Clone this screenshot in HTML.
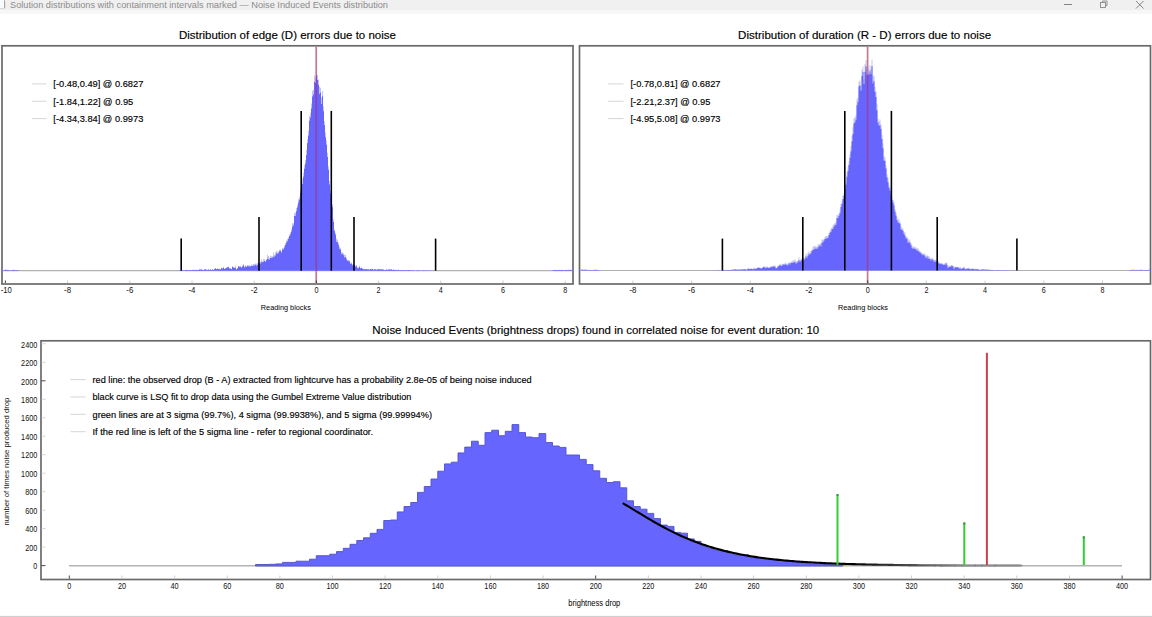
<!DOCTYPE html>
<html><head><meta charset="utf-8"><style>
html,body{margin:0;padding:0;background:#fff;width:1152px;height:617px;overflow:hidden}
svg{display:block;font-family:"Liberation Sans", sans-serif}
</style></head><body>
<svg width="1152" height="617" viewBox="0 0 1152 617">
<rect width="1152" height="617" fill="#fff"/>
<rect x="0" y="0" width="1152" height="10" fill="#f0f0f0"/>
<rect x="0" y="10" width="1152" height="4" fill="#f7f7f7"/>
<rect x="0" y="0" width="4" height="8.5" fill="#fafafa"/>
<line x1="4.6" y1="0.5" x2="4.6" y2="8" stroke="#a0a0a0" stroke-width="1.1"/>
<line x1="0" y1="8.6" x2="5" y2="8.6" stroke="#cfcfcf" stroke-width="0.8"/>
<text x="10.00" y="8.30" font-size="9" text-anchor="start" fill="#8c8c8c" textLength="378.0" lengthAdjust="spacingAndGlyphs">Solution distributions with containment intervals marked — Noise Induced Events distribution</text>
<line x1="1064" y1="4.5" x2="1072" y2="4.5" stroke="#777" stroke-width="0.9"/>
<rect x="1100.5" y="2.5" width="5" height="5" fill="none" stroke="#888" stroke-width="0.9"/>
<path d="M1102.5 2.5 V1 H1107 V5.5 H1105.5" fill="none" stroke="#888" stroke-width="0.9"/>
<path d="M1136 1 L1143.5 8.5 M1143.5 1 L1136 8.5" stroke="#777" stroke-width="0.9"/>
<text x="287.40" y="38.60" font-size="11.5" text-anchor="middle" fill="#000" stroke="#000" stroke-width="0.15" textLength="217.0" lengthAdjust="spacingAndGlyphs">Distribution of edge (D) errors due to noise</text>
<rect x="2" y="45.8" width="571" height="238.2" fill="none" stroke="#6a6a6a" stroke-width="1.7"/>
<line x1="3" y1="270.7" x2="572" y2="270.7" stroke="#b0b0b0" stroke-width="1.2"/>
<path d="M3.0 270.7 L3.0 270.2 L4.0 270.2 L4.0 269.9 L5.0 269.9 L5.0 269.7 L6.0 269.7 L6.0 269.8 L7.0 269.8 L7.0 269.8 L8.0 269.8 L8.0 270.0 L9.0 270.0 L9.0 270.3 L10.0 270.3 L10.0 270.3 L11.0 270.3 L11.0 270.2 L12.0 270.2 L12.0 270.0 L13.0 270.0 L13.0 269.8 L14.0 269.8 L14.0 269.8 L15.0 269.8 L15.0 270.1 L16.0 270.1 L16.0 270.0 L17.0 270.0 L17.0 270.2 L18.0 270.2 L18.0 270.3 L19.0 270.3 L19.0 270.2 L20.0 270.2 L20.0 270.7 L21.0 270.7 L21.0 270.7 L22.0 270.7 L22.0 270.7 L23.0 270.7 L23.0 270.7 L24.0 270.7 L24.0 270.7 L25.0 270.7 L25.0 270.7 L26.0 270.7 L26.0 270.7 L27.0 270.7 L27.0 270.7 L28.0 270.7 L28.0 270.7 L29.0 270.7 L29.0 270.7 L30.0 270.7 L30.0 270.7 L31.0 270.7 L31.0 270.7 L32.0 270.7 L32.0 270.7 L33.0 270.7 L33.0 270.7 L34.0 270.7 L34.0 270.7 L35.0 270.7 L35.0 270.7 L36.0 270.7 L36.0 270.7 L37.0 270.7 L37.0 270.7 L38.0 270.7 L38.0 270.7 L39.0 270.7 L39.0 270.7 L40.0 270.7 L40.0 270.7 L41.0 270.7 L41.0 270.7 L42.0 270.7 L42.0 270.7 L43.0 270.7 L43.0 270.7 L44.0 270.7 L44.0 270.7 L45.0 270.7 L45.0 270.7 L46.0 270.7 L46.0 270.7 L47.0 270.7 L47.0 270.7 L48.0 270.7 L48.0 270.7 L49.0 270.7 L49.0 270.7 L50.0 270.7 L50.0 270.7 L51.0 270.7 L51.0 270.7 L52.0 270.7 L52.0 270.7 L53.0 270.7 L53.0 270.7 L54.0 270.7 L54.0 270.7 L55.0 270.7 L55.0 270.7 L56.0 270.7 L56.0 270.7 L57.0 270.7 L57.0 270.7 L58.0 270.7 L58.0 270.7 L59.0 270.7 L59.0 270.7 L60.0 270.7 L60.0 270.7 L61.0 270.7 L61.0 270.7 L62.0 270.7 L62.0 270.7 L63.0 270.7 L63.0 270.7 L64.0 270.7 L64.0 270.7 L65.0 270.7 L65.0 270.7 L66.0 270.7 L66.0 270.7 L67.0 270.7 L67.0 270.7 L68.0 270.7 L68.0 270.7 L69.0 270.7 L69.0 270.7 L70.0 270.7 L70.0 270.7 L71.0 270.7 L71.0 270.7 L72.0 270.7 L72.0 270.7 L73.0 270.7 L73.0 270.7 L74.0 270.7 L74.0 270.7 L75.0 270.7 L75.0 270.7 L76.0 270.7 L76.0 270.7 L77.0 270.7 L77.0 270.7 L78.0 270.7 L78.0 270.7 L79.0 270.7 L79.0 270.7 L80.0 270.7 L80.0 270.7 L81.0 270.7 L81.0 270.7 L82.0 270.7 L82.0 270.7 L83.0 270.7 L83.0 270.7 L84.0 270.7 L84.0 270.7 L85.0 270.7 L85.0 270.7 L86.0 270.7 L86.0 270.7 L87.0 270.7 L87.0 270.7 L88.0 270.7 L88.0 270.7 L89.0 270.7 L89.0 270.7 L90.0 270.7 L90.0 270.7 L91.0 270.7 L91.0 270.7 L92.0 270.7 L92.0 270.7 L93.0 270.7 L93.0 270.7 L94.0 270.7 L94.0 270.7 L95.0 270.7 L95.0 270.7 L96.0 270.7 L96.0 270.7 L97.0 270.7 L97.0 270.7 L98.0 270.7 L98.0 270.7 L99.0 270.7 L99.0 270.7 L100.0 270.7 L100.0 270.7 L101.0 270.7 L101.0 270.7 L102.0 270.7 L102.0 270.7 L103.0 270.7 L103.0 270.7 L104.0 270.7 L104.0 270.7 L105.0 270.7 L105.0 270.7 L106.0 270.7 L106.0 270.7 L107.0 270.7 L107.0 270.7 L108.0 270.7 L108.0 270.7 L109.0 270.7 L109.0 270.7 L110.0 270.7 L110.0 270.7 L111.0 270.7 L111.0 270.7 L112.0 270.7 L112.0 270.7 L113.0 270.7 L113.0 270.7 L114.0 270.7 L114.0 270.7 L115.0 270.7 L115.0 270.7 L116.0 270.7 L116.0 270.7 L117.0 270.7 L117.0 270.7 L118.0 270.7 L118.0 270.7 L119.0 270.7 L119.0 270.7 L120.0 270.7 L120.0 270.7 L121.0 270.7 L121.0 270.7 L122.0 270.7 L122.0 270.7 L123.0 270.7 L123.0 270.7 L124.0 270.7 L124.0 270.7 L125.0 270.7 L125.0 270.7 L126.0 270.7 L126.0 270.7 L127.0 270.7 L127.0 270.7 L128.0 270.7 L128.0 270.7 L129.0 270.7 L129.0 270.7 L130.0 270.7 L130.0 270.7 L131.0 270.7 L131.0 270.7 L132.0 270.7 L132.0 270.7 L133.0 270.7 L133.0 270.7 L134.0 270.7 L134.0 270.7 L135.0 270.7 L135.0 270.7 L136.0 270.7 L136.0 270.7 L137.0 270.7 L137.0 270.7 L138.0 270.7 L138.0 270.7 L139.0 270.7 L139.0 270.7 L140.0 270.7 L140.0 270.7 L141.0 270.7 L141.0 270.7 L142.0 270.7 L142.0 270.7 L143.0 270.7 L143.0 270.7 L144.0 270.7 L144.0 270.7 L145.0 270.7 L145.0 270.7 L146.0 270.7 L146.0 270.7 L147.0 270.7 L147.0 270.7 L148.0 270.7 L148.0 270.7 L149.0 270.7 L149.0 270.7 L150.0 270.7 L150.0 270.7 L151.0 270.7 L151.0 270.7 L152.0 270.7 L152.0 270.7 L153.0 270.7 L153.0 270.7 L154.0 270.7 L154.0 270.7 L155.0 270.7 L155.0 270.7 L156.0 270.7 L156.0 270.7 L157.0 270.7 L157.0 270.7 L158.0 270.7 L158.0 270.7 L159.0 270.7 L159.0 270.7 L160.0 270.7 L160.0 270.7 L161.0 270.7 L161.0 270.7 L162.0 270.7 L162.0 270.7 L163.0 270.7 L163.0 270.7 L164.0 270.7 L164.0 270.7 L165.0 270.7 L165.0 270.7 L166.0 270.7 L166.0 270.7 L167.0 270.7 L167.0 270.7 L168.0 270.7 L168.0 270.7 L169.0 270.7 L169.0 270.7 L170.0 270.7 L170.0 270.7 L171.0 270.7 L171.0 270.7 L172.0 270.7 L172.0 270.7 L173.0 270.7 L173.0 270.7 L174.0 270.7 L174.0 270.7 L175.0 270.7 L175.0 270.7 L176.0 270.7 L176.0 270.7 L177.0 270.7 L177.0 270.7 L178.0 270.7 L178.0 270.7 L179.0 270.7 L179.0 270.3 L180.0 270.3 L180.0 270.0 L181.0 270.0 L181.0 270.1 L182.0 270.1 L182.0 270.3 L183.0 270.3 L183.0 270.1 L184.0 270.1 L184.0 270.2 L185.0 270.2 L185.0 270.0 L186.0 270.0 L186.0 269.8 L187.0 269.8 L187.0 269.9 L188.0 269.9 L188.0 269.9 L189.0 269.9 L189.0 270.0 L190.0 270.0 L190.0 269.9 L191.0 269.9 L191.0 270.2 L192.0 270.2 L192.0 269.8 L193.0 269.8 L193.0 269.8 L194.0 269.8 L194.0 269.8 L195.0 269.8 L195.0 269.8 L196.0 269.8 L196.0 269.7 L197.0 269.7 L197.0 269.8 L198.0 269.8 L198.0 269.9 L199.0 269.9 L199.0 269.4 L200.0 269.4 L200.0 269.3 L201.0 269.3 L201.0 269.1 L202.0 269.1 L202.0 269.8 L203.0 269.8 L203.0 269.9 L204.0 269.9 L204.0 269.2 L205.0 269.2 L205.0 269.0 L206.0 269.0 L206.0 269.6 L207.0 269.6 L207.0 269.8 L208.0 269.8 L208.0 269.3 L209.0 269.3 L209.0 269.9 L210.0 269.9 L210.0 269.2 L211.0 269.2 L211.0 269.9 L212.0 269.9 L212.0 269.0 L213.0 269.0 L213.0 269.8 L214.0 269.8 L214.0 269.0 L215.0 269.0 L215.0 267.9 L216.0 267.9 L216.0 268.9 L217.0 268.9 L217.0 268.4 L218.0 268.4 L218.0 268.9 L219.0 268.9 L219.0 268.8 L220.0 268.8 L220.0 269.0 L221.0 269.0 L221.0 267.7 L222.0 267.7 L222.0 268.3 L223.0 268.3 L223.0 266.9 L224.0 266.9 L224.0 268.8 L225.0 268.8 L225.0 268.0 L226.0 268.0 L226.0 267.3 L227.0 267.3 L227.0 266.8 L228.0 266.8 L228.0 266.4 L229.0 266.4 L229.0 268.2 L230.0 268.2 L230.0 268.3 L231.0 268.3 L231.0 268.9 L232.0 268.9 L232.0 266.1 L233.0 266.1 L233.0 267.2 L234.0 267.2 L234.0 267.5 L235.0 267.5 L235.0 266.3 L236.0 266.3 L236.0 268.9 L237.0 268.9 L237.0 268.1 L238.0 268.1 L238.0 265.9 L239.0 265.9 L239.0 266.1 L240.0 266.1 L240.0 266.0 L241.0 266.0 L241.0 267.3 L242.0 267.3 L242.0 265.5 L243.0 265.5 L243.0 263.9 L244.0 263.9 L244.0 266.4 L245.0 266.4 L245.0 265.3 L246.0 265.3 L246.0 266.3 L247.0 266.3 L247.0 264.9 L248.0 264.9 L248.0 265.5 L249.0 265.5 L249.0 265.1 L250.0 265.1 L250.0 265.8 L251.0 265.8 L251.0 264.5 L252.0 264.5 L252.0 264.8 L253.0 264.8 L253.0 264.1 L254.0 264.1 L254.0 263.9 L255.0 263.9 L255.0 263.5 L256.0 263.5 L256.0 263.7 L257.0 263.7 L257.0 263.1 L258.0 263.1 L258.0 261.7 L259.0 261.7 L259.0 263.1 L260.0 263.1 L260.0 261.6 L261.0 261.6 L261.0 259.5 L262.0 259.5 L262.0 260.9 L263.0 260.9 L263.0 259.0 L264.0 259.0 L264.0 259.2 L265.0 259.2 L265.0 260.5 L266.0 260.5 L266.0 258.9 L267.0 258.9 L267.0 254.8 L268.0 254.8 L268.0 256.1 L269.0 256.1 L269.0 257.5 L270.0 257.5 L270.0 255.5 L271.0 255.5 L271.0 256.3 L272.0 256.3 L272.0 256.3 L273.0 256.3 L273.0 252.4 L274.0 252.4 L274.0 254.8 L275.0 254.8 L275.0 252.3 L276.0 252.3 L276.0 251.0 L277.0 251.0 L277.0 251.6 L278.0 251.6 L278.0 251.6 L279.0 251.6 L279.0 249.8 L280.0 249.8 L280.0 249.4 L281.0 249.4 L281.0 251.2 L282.0 251.2 L282.0 247.9 L283.0 247.9 L283.0 247.8 L284.0 247.8 L284.0 245.3 L285.0 245.3 L285.0 243.1 L286.0 243.1 L286.0 240.3 L287.0 240.3 L287.0 238.7 L288.0 238.7 L288.0 236.9 L289.0 236.9 L289.0 234.6 L290.0 234.6 L290.0 232.2 L291.0 232.2 L291.0 229.1 L292.0 229.1 L292.0 223.2 L293.0 223.2 L293.0 223.1 L294.0 223.1 L294.0 213.1 L295.0 213.1 L295.0 212.4 L296.0 212.4 L296.0 207.9 L297.0 207.9 L297.0 204.7 L298.0 204.7 L298.0 199.0 L299.0 199.0 L299.0 196.7 L300.0 196.7 L300.0 189.0 L301.0 189.0 L301.0 181.1 L302.0 181.1 L302.0 178.7 L303.0 178.7 L303.0 172.8 L304.0 172.8 L304.0 165.3 L305.0 165.3 L305.0 160.0 L306.0 160.0 L306.0 149.8 L307.0 149.8 L307.0 139.3 L308.0 139.3 L308.0 130.7 L309.0 130.7 L309.0 116.0 L310.0 116.0 L310.0 112.7 L311.0 112.7 L311.0 103.6 L312.0 103.6 L312.0 90.8 L313.0 90.8 L313.0 89.5 L314.0 89.5 L314.0 75.6 L315.0 75.6 L315.0 77.8 L316.0 77.8 L316.0 69.0 L317.0 69.0 L317.0 74.9 L318.0 74.9 L318.0 79.4 L319.0 79.4 L319.0 86.7 L320.0 86.7 L320.0 87.7 L321.0 87.7 L321.0 97.6 L322.0 97.6 L322.0 91.0 L323.0 91.0 L323.0 106.5 L324.0 106.5 L324.0 121.0 L325.0 121.0 L325.0 132.4 L326.0 132.4 L326.0 140.4 L327.0 140.4 L327.0 152.8 L328.0 152.8 L328.0 166.2 L329.0 166.2 L329.0 181.0 L330.0 181.0 L330.0 190.5 L331.0 190.5 L331.0 198.9 L332.0 198.9 L332.0 204.2 L333.0 204.2 L333.0 219.3 L334.0 219.3 L334.0 229.2 L335.0 229.2 L335.0 232.8 L336.0 232.8 L336.0 238.5 L337.0 238.5 L337.0 239.7 L338.0 239.7 L338.0 242.7 L339.0 242.7 L339.0 246.6 L340.0 246.6 L340.0 247.7 L341.0 247.7 L341.0 252.0 L342.0 252.0 L342.0 252.4 L343.0 252.4 L343.0 253.3 L344.0 253.3 L344.0 254.9 L345.0 254.9 L345.0 254.5 L346.0 254.5 L346.0 257.2 L347.0 257.2 L347.0 259.8 L348.0 259.8 L348.0 259.8 L349.0 259.8 L349.0 260.3 L350.0 260.3 L350.0 263.0 L351.0 263.0 L351.0 262.2 L352.0 262.2 L352.0 264.2 L353.0 264.2 L353.0 263.0 L354.0 263.0 L354.0 264.8 L355.0 264.8 L355.0 265.6 L356.0 265.6 L356.0 264.9 L357.0 264.9 L357.0 267.6 L358.0 267.6 L358.0 267.5 L359.0 267.5 L359.0 265.5 L360.0 265.5 L360.0 268.0 L361.0 268.0 L361.0 267.3 L362.0 267.3 L362.0 268.4 L363.0 268.4 L363.0 268.9 L364.0 268.9 L364.0 268.9 L365.0 268.9 L365.0 268.9 L366.0 268.9 L366.0 268.9 L367.0 268.9 L367.0 269.0 L368.0 269.0 L368.0 268.9 L369.0 268.9 L369.0 269.5 L370.0 269.5 L370.0 268.9 L371.0 268.9 L371.0 268.9 L372.0 268.9 L372.0 268.8 L373.0 268.8 L373.0 269.6 L374.0 269.6 L374.0 268.9 L375.0 268.9 L375.0 269.1 L376.0 269.1 L376.0 269.7 L377.0 269.7 L377.0 269.3 L378.0 269.3 L378.0 269.0 L379.0 269.0 L379.0 269.1 L380.0 269.1 L380.0 269.0 L381.0 269.0 L381.0 269.0 L382.0 269.0 L382.0 269.2 L383.0 269.2 L383.0 269.4 L384.0 269.4 L384.0 269.9 L385.0 269.9 L385.0 269.7 L386.0 269.7 L386.0 269.5 L387.0 269.5 L387.0 269.7 L388.0 269.7 L388.0 269.4 L389.0 269.4 L389.0 269.5 L390.0 269.5 L390.0 269.6 L391.0 269.6 L391.0 269.3 L392.0 269.3 L392.0 269.9 L393.0 269.9 L393.0 269.4 L394.0 269.4 L394.0 269.8 L395.0 269.8 L395.0 270.0 L396.0 270.0 L396.0 269.7 L397.0 269.7 L397.0 270.0 L398.0 270.0 L398.0 269.6 L399.0 269.6 L399.0 270.1 L400.0 270.1 L400.0 269.9 L401.0 269.9 L401.0 270.1 L402.0 270.1 L402.0 270.0 L403.0 270.0 L403.0 270.0 L404.0 270.0 L404.0 270.2 L405.0 270.2 L405.0 270.0 L406.0 270.0 L406.0 270.2 L407.0 270.2 L407.0 270.2 L408.0 270.2 L408.0 269.9 L409.0 269.9 L409.0 270.0 L410.0 270.0 L410.0 270.1 L411.0 270.1 L411.0 270.1 L412.0 270.1 L412.0 269.9 L413.0 269.9 L413.0 270.4 L414.0 270.4 L414.0 270.3 L415.0 270.3 L415.0 270.3 L416.0 270.3 L416.0 270.1 L417.0 270.1 L417.0 270.2 L418.0 270.2 L418.0 270.1 L419.0 270.1 L419.0 270.1 L420.0 270.1 L420.0 270.3 L421.0 270.3 L421.0 270.3 L422.0 270.3 L422.0 270.4 L423.0 270.4 L423.0 270.1 L424.0 270.1 L424.0 270.2 L425.0 270.2 L425.0 270.3 L426.0 270.3 L426.0 270.4 L427.0 270.4 L427.0 270.4 L428.0 270.4 L428.0 270.4 L429.0 270.4 L429.0 270.3 L430.0 270.3 L430.0 270.7 L431.0 270.7 L431.0 270.4 L432.0 270.4 L432.0 270.7 L433.0 270.7 L433.0 270.4 L434.0 270.4 L434.0 270.7 L435.0 270.7 L435.0 270.7 L436.0 270.7 L436.0 270.7 L437.0 270.7 L437.0 270.7 L438.0 270.7 L438.0 270.7 L439.0 270.7 L439.0 270.7 L440.0 270.7 L440.0 270.7 L441.0 270.7 L441.0 270.7 L442.0 270.7 L442.0 270.7 L443.0 270.7 L443.0 270.7 L444.0 270.7 L444.0 270.7 L445.0 270.7 L445.0 270.7 L446.0 270.7 L446.0 270.7 L447.0 270.7 L447.0 270.7 L448.0 270.7 L448.0 270.7 L449.0 270.7 L449.0 270.7 L450.0 270.7 L450.0 270.7 L451.0 270.7 L451.0 270.7 L452.0 270.7 L452.0 270.7 L453.0 270.7 L453.0 270.7 L454.0 270.7 L454.0 270.7 L455.0 270.7 L455.0 270.7 L456.0 270.7 L456.0 270.7 L457.0 270.7 L457.0 270.7 L458.0 270.7 L458.0 270.7 L459.0 270.7 L459.0 270.7 L460.0 270.7 L460.0 270.7 L461.0 270.7 L461.0 270.7 L462.0 270.7 L462.0 270.7 L463.0 270.7 L463.0 270.7 L464.0 270.7 L464.0 270.7 L465.0 270.7 L465.0 270.7 L466.0 270.7 L466.0 270.7 L467.0 270.7 L467.0 270.7 L468.0 270.7 L468.0 270.7 L469.0 270.7 L469.0 270.7 L470.0 270.7 L470.0 270.7 L471.0 270.7 L471.0 270.7 L472.0 270.7 L472.0 270.7 L473.0 270.7 L473.0 270.7 L474.0 270.7 L474.0 270.7 L475.0 270.7 L475.0 270.7 L476.0 270.7 L476.0 270.7 L477.0 270.7 L477.0 270.7 L478.0 270.7 L478.0 270.7 L479.0 270.7 L479.0 270.7 L480.0 270.7 L480.0 270.7 L481.0 270.7 L481.0 270.7 L482.0 270.7 L482.0 270.7 L483.0 270.7 L483.0 270.7 L484.0 270.7 L484.0 270.7 L485.0 270.7 L485.0 270.7 L486.0 270.7 L486.0 270.7 L487.0 270.7 L487.0 270.7 L488.0 270.7 L488.0 270.7 L489.0 270.7 L489.0 270.7 L490.0 270.7 L490.0 270.7 L491.0 270.7 L491.0 270.7 L492.0 270.7 L492.0 270.7 L493.0 270.7 L493.0 270.7 L494.0 270.7 L494.0 270.7 L495.0 270.7 L495.0 270.7 L496.0 270.7 L496.0 270.7 L497.0 270.7 L497.0 270.7 L498.0 270.7 L498.0 270.7 L499.0 270.7 L499.0 270.7 L500.0 270.7 L500.0 270.7 L501.0 270.7 L501.0 270.7 L502.0 270.7 L502.0 270.7 L503.0 270.7 L503.0 270.7 L504.0 270.7 L504.0 270.7 L505.0 270.7 L505.0 270.7 L506.0 270.7 L506.0 270.7 L507.0 270.7 L507.0 270.7 L508.0 270.7 L508.0 270.7 L509.0 270.7 L509.0 270.7 L510.0 270.7 L510.0 270.7 L511.0 270.7 L511.0 270.7 L512.0 270.7 L512.0 270.7 L513.0 270.7 L513.0 270.7 L514.0 270.7 L514.0 270.7 L515.0 270.7 L515.0 270.7 L516.0 270.7 L516.0 270.7 L517.0 270.7 L517.0 270.7 L518.0 270.7 L518.0 270.7 L519.0 270.7 L519.0 270.7 L520.0 270.7 L520.0 270.7 L521.0 270.7 L521.0 270.7 L522.0 270.7 L522.0 270.7 L523.0 270.7 L523.0 270.7 L524.0 270.7 L524.0 270.7 L525.0 270.7 L525.0 270.7 L526.0 270.7 L526.0 270.7 L527.0 270.7 L527.0 270.7 L528.0 270.7 L528.0 270.7 L529.0 270.7 L529.0 270.7 L530.0 270.7 L530.0 270.7 L531.0 270.7 L531.0 270.7 L532.0 270.7 L532.0 270.7 L533.0 270.7 L533.0 270.7 L534.0 270.7 L534.0 270.7 L535.0 270.7 L535.0 270.7 L536.0 270.7 L536.0 270.7 L537.0 270.7 L537.0 270.7 L538.0 270.7 L538.0 270.7 L539.0 270.7 L539.0 270.7 L540.0 270.7 L540.0 270.7 L541.0 270.7 L541.0 270.7 L542.0 270.7 L542.0 270.7 L543.0 270.7 L543.0 270.7 L544.0 270.7 L544.0 270.7 L545.0 270.7 L545.0 270.7 L546.0 270.7 L546.0 270.7 L547.0 270.7 L547.0 270.7 L548.0 270.7 L548.0 270.7 L549.0 270.7 L549.0 270.7 L550.0 270.7 L550.0 270.7 L551.0 270.7 L551.0 270.7 L552.0 270.7 L552.0 270.1 L553.0 270.1 L553.0 270.0 L554.0 270.0 L554.0 269.8 L555.0 269.8 L555.0 269.9 L556.0 269.9 L556.0 270.0 L557.0 270.0 L557.0 269.9 L558.0 269.9 L558.0 270.0 L559.0 270.0 L559.0 269.8 L560.0 269.8 L560.0 270.0 L561.0 270.0 L561.0 269.8 L562.0 269.8 L562.0 270.0 L563.0 270.0 L563.0 270.0 L564.0 270.0 L564.0 270.1 L565.0 270.1 L565.0 269.9 L566.0 269.9 L566.0 269.7 L567.0 269.7 L567.0 269.9 L568.0 269.9 L568.0 269.8 L569.0 269.8 L569.0 269.8 L570.0 269.8 L570.0 269.5 L571.0 269.5 L571.0 270.0 L572.0 270.0 L572.0 270.7 Z" fill="#c4c4f2"/>
<path d="M3.0 270.7 L3.0 270.4 L4.0 270.4 L4.0 270.0 L5.0 270.0 L5.0 269.8 L6.0 269.8 L6.0 270.0 L7.0 270.0 L7.0 270.0 L8.0 270.0 L8.0 270.1 L9.0 270.1 L9.0 270.4 L10.0 270.4 L10.0 270.3 L11.0 270.3 L11.0 270.3 L12.0 270.3 L12.0 270.1 L13.0 270.1 L13.0 270.1 L14.0 270.1 L14.0 270.0 L15.0 270.0 L15.0 270.2 L16.0 270.2 L16.0 270.1 L17.0 270.1 L17.0 270.3 L18.0 270.3 L18.0 270.4 L19.0 270.4 L19.0 270.4 L20.0 270.4 L20.0 270.7 L21.0 270.7 L21.0 270.7 L22.0 270.7 L22.0 270.7 L23.0 270.7 L23.0 270.7 L24.0 270.7 L24.0 270.7 L25.0 270.7 L25.0 270.7 L26.0 270.7 L26.0 270.7 L27.0 270.7 L27.0 270.7 L28.0 270.7 L28.0 270.7 L29.0 270.7 L29.0 270.7 L30.0 270.7 L30.0 270.7 L31.0 270.7 L31.0 270.7 L32.0 270.7 L32.0 270.7 L33.0 270.7 L33.0 270.7 L34.0 270.7 L34.0 270.7 L35.0 270.7 L35.0 270.7 L36.0 270.7 L36.0 270.7 L37.0 270.7 L37.0 270.7 L38.0 270.7 L38.0 270.7 L39.0 270.7 L39.0 270.7 L40.0 270.7 L40.0 270.7 L41.0 270.7 L41.0 270.7 L42.0 270.7 L42.0 270.7 L43.0 270.7 L43.0 270.7 L44.0 270.7 L44.0 270.7 L45.0 270.7 L45.0 270.7 L46.0 270.7 L46.0 270.7 L47.0 270.7 L47.0 270.7 L48.0 270.7 L48.0 270.7 L49.0 270.7 L49.0 270.7 L50.0 270.7 L50.0 270.7 L51.0 270.7 L51.0 270.7 L52.0 270.7 L52.0 270.7 L53.0 270.7 L53.0 270.7 L54.0 270.7 L54.0 270.7 L55.0 270.7 L55.0 270.7 L56.0 270.7 L56.0 270.7 L57.0 270.7 L57.0 270.7 L58.0 270.7 L58.0 270.7 L59.0 270.7 L59.0 270.7 L60.0 270.7 L60.0 270.7 L61.0 270.7 L61.0 270.7 L62.0 270.7 L62.0 270.7 L63.0 270.7 L63.0 270.7 L64.0 270.7 L64.0 270.7 L65.0 270.7 L65.0 270.7 L66.0 270.7 L66.0 270.7 L67.0 270.7 L67.0 270.7 L68.0 270.7 L68.0 270.7 L69.0 270.7 L69.0 270.7 L70.0 270.7 L70.0 270.7 L71.0 270.7 L71.0 270.7 L72.0 270.7 L72.0 270.7 L73.0 270.7 L73.0 270.7 L74.0 270.7 L74.0 270.7 L75.0 270.7 L75.0 270.7 L76.0 270.7 L76.0 270.7 L77.0 270.7 L77.0 270.7 L78.0 270.7 L78.0 270.7 L79.0 270.7 L79.0 270.7 L80.0 270.7 L80.0 270.7 L81.0 270.7 L81.0 270.7 L82.0 270.7 L82.0 270.7 L83.0 270.7 L83.0 270.7 L84.0 270.7 L84.0 270.7 L85.0 270.7 L85.0 270.7 L86.0 270.7 L86.0 270.7 L87.0 270.7 L87.0 270.7 L88.0 270.7 L88.0 270.7 L89.0 270.7 L89.0 270.7 L90.0 270.7 L90.0 270.7 L91.0 270.7 L91.0 270.7 L92.0 270.7 L92.0 270.7 L93.0 270.7 L93.0 270.7 L94.0 270.7 L94.0 270.7 L95.0 270.7 L95.0 270.7 L96.0 270.7 L96.0 270.7 L97.0 270.7 L97.0 270.7 L98.0 270.7 L98.0 270.7 L99.0 270.7 L99.0 270.7 L100.0 270.7 L100.0 270.7 L101.0 270.7 L101.0 270.7 L102.0 270.7 L102.0 270.7 L103.0 270.7 L103.0 270.7 L104.0 270.7 L104.0 270.7 L105.0 270.7 L105.0 270.7 L106.0 270.7 L106.0 270.7 L107.0 270.7 L107.0 270.7 L108.0 270.7 L108.0 270.7 L109.0 270.7 L109.0 270.7 L110.0 270.7 L110.0 270.7 L111.0 270.7 L111.0 270.7 L112.0 270.7 L112.0 270.7 L113.0 270.7 L113.0 270.7 L114.0 270.7 L114.0 270.7 L115.0 270.7 L115.0 270.7 L116.0 270.7 L116.0 270.7 L117.0 270.7 L117.0 270.7 L118.0 270.7 L118.0 270.7 L119.0 270.7 L119.0 270.7 L120.0 270.7 L120.0 270.7 L121.0 270.7 L121.0 270.7 L122.0 270.7 L122.0 270.7 L123.0 270.7 L123.0 270.7 L124.0 270.7 L124.0 270.7 L125.0 270.7 L125.0 270.7 L126.0 270.7 L126.0 270.7 L127.0 270.7 L127.0 270.7 L128.0 270.7 L128.0 270.7 L129.0 270.7 L129.0 270.7 L130.0 270.7 L130.0 270.7 L131.0 270.7 L131.0 270.7 L132.0 270.7 L132.0 270.7 L133.0 270.7 L133.0 270.7 L134.0 270.7 L134.0 270.7 L135.0 270.7 L135.0 270.7 L136.0 270.7 L136.0 270.7 L137.0 270.7 L137.0 270.7 L138.0 270.7 L138.0 270.7 L139.0 270.7 L139.0 270.7 L140.0 270.7 L140.0 270.7 L141.0 270.7 L141.0 270.7 L142.0 270.7 L142.0 270.7 L143.0 270.7 L143.0 270.7 L144.0 270.7 L144.0 270.7 L145.0 270.7 L145.0 270.7 L146.0 270.7 L146.0 270.7 L147.0 270.7 L147.0 270.7 L148.0 270.7 L148.0 270.7 L149.0 270.7 L149.0 270.7 L150.0 270.7 L150.0 270.7 L151.0 270.7 L151.0 270.7 L152.0 270.7 L152.0 270.7 L153.0 270.7 L153.0 270.7 L154.0 270.7 L154.0 270.7 L155.0 270.7 L155.0 270.7 L156.0 270.7 L156.0 270.7 L157.0 270.7 L157.0 270.7 L158.0 270.7 L158.0 270.7 L159.0 270.7 L159.0 270.7 L160.0 270.7 L160.0 270.7 L161.0 270.7 L161.0 270.7 L162.0 270.7 L162.0 270.7 L163.0 270.7 L163.0 270.7 L164.0 270.7 L164.0 270.7 L165.0 270.7 L165.0 270.7 L166.0 270.7 L166.0 270.7 L167.0 270.7 L167.0 270.7 L168.0 270.7 L168.0 270.7 L169.0 270.7 L169.0 270.7 L170.0 270.7 L170.0 270.7 L171.0 270.7 L171.0 270.7 L172.0 270.7 L172.0 270.7 L173.0 270.7 L173.0 270.7 L174.0 270.7 L174.0 270.7 L175.0 270.7 L175.0 270.7 L176.0 270.7 L176.0 270.7 L177.0 270.7 L177.0 270.7 L178.0 270.7 L178.0 270.7 L179.0 270.7 L179.0 270.4 L180.0 270.4 L180.0 270.2 L181.0 270.2 L181.0 270.2 L182.0 270.2 L182.0 270.3 L183.0 270.3 L183.0 270.2 L184.0 270.2 L184.0 270.3 L185.0 270.3 L185.0 270.1 L186.0 270.1 L186.0 269.9 L187.0 269.9 L187.0 270.0 L188.0 270.0 L188.0 270.2 L189.0 270.2 L189.0 270.1 L190.0 270.1 L190.0 270.0 L191.0 270.0 L191.0 270.3 L192.0 270.3 L192.0 270.0 L193.0 270.0 L193.0 269.9 L194.0 269.9 L194.0 270.0 L195.0 270.0 L195.0 270.0 L196.0 270.0 L196.0 269.9 L197.0 269.9 L197.0 270.0 L198.0 270.0 L198.0 270.1 L199.0 270.1 L199.0 269.6 L200.0 269.6 L200.0 269.8 L201.0 269.8 L201.0 269.4 L202.0 269.4 L202.0 270.0 L203.0 270.0 L203.0 270.1 L204.0 270.1 L204.0 269.4 L205.0 269.4 L205.0 269.4 L206.0 269.4 L206.0 269.8 L207.0 269.8 L207.0 270.0 L208.0 270.0 L208.0 269.5 L209.0 269.5 L209.0 270.0 L210.0 270.0 L210.0 269.5 L211.0 269.5 L211.0 270.1 L212.0 270.1 L212.0 269.4 L213.0 269.4 L213.0 270.0 L214.0 270.0 L214.0 269.3 L215.0 269.3 L215.0 268.6 L216.0 268.6 L216.0 269.2 L217.0 269.2 L217.0 268.7 L218.0 268.7 L218.0 269.3 L219.0 269.3 L219.0 269.3 L220.0 269.3 L220.0 269.5 L221.0 269.5 L221.0 268.2 L222.0 268.2 L222.0 268.7 L223.0 268.7 L223.0 267.8 L224.0 267.8 L224.0 269.1 L225.0 269.1 L225.0 268.6 L226.0 268.6 L226.0 268.3 L227.0 268.3 L227.0 267.5 L228.0 267.5 L228.0 267.2 L229.0 267.2 L229.0 268.6 L230.0 268.6 L230.0 268.7 L231.0 268.7 L231.0 269.2 L232.0 269.2 L232.0 267.0 L233.0 267.0 L233.0 267.8 L234.0 267.8 L234.0 268.1 L235.0 268.1 L235.0 267.7 L236.0 267.7 L236.0 269.4 L237.0 269.4 L237.0 268.6 L238.0 268.6 L238.0 266.6 L239.0 266.6 L239.0 267.0 L240.0 267.0 L240.0 266.9 L241.0 266.9 L241.0 267.8 L242.0 267.8 L242.0 266.6 L243.0 266.6 L243.0 265.5 L244.0 265.5 L244.0 267.6 L245.0 267.6 L245.0 266.6 L246.0 266.6 L246.0 266.9 L247.0 266.9 L247.0 265.9 L248.0 265.9 L248.0 266.3 L249.0 266.3 L249.0 266.4 L250.0 266.4 L250.0 266.6 L251.0 266.6 L251.0 265.9 L252.0 265.9 L252.0 266.1 L253.0 266.1 L253.0 265.8 L254.0 265.8 L254.0 265.5 L255.0 265.5 L255.0 264.9 L256.0 264.9 L256.0 265.7 L257.0 265.7 L257.0 264.9 L258.0 264.9 L258.0 263.6 L259.0 263.6 L259.0 264.1 L260.0 264.1 L260.0 263.5 L261.0 263.5 L261.0 262.2 L262.0 262.2 L262.0 262.3 L263.0 262.3 L263.0 262.1 L264.0 262.1 L264.0 261.1 L265.0 261.1 L265.0 262.1 L266.0 262.1 L266.0 260.2 L267.0 260.2 L267.0 258.7 L268.0 258.7 L268.0 259.2 L269.0 259.2 L269.0 259.8 L270.0 259.8 L270.0 258.1 L271.0 258.1 L271.0 258.1 L272.0 258.1 L272.0 257.7 L273.0 257.7 L273.0 256.8 L274.0 256.8 L274.0 256.8 L275.0 256.8 L275.0 255.5 L276.0 255.5 L276.0 253.6 L277.0 253.6 L277.0 253.8 L278.0 253.8 L278.0 253.2 L279.0 253.2 L279.0 251.2 L280.0 251.2 L280.0 250.9 L281.0 250.9 L281.0 252.7 L282.0 252.7 L282.0 249.6 L283.0 249.6 L283.0 249.6 L284.0 249.6 L284.0 247.6 L285.0 247.6 L285.0 245.0 L286.0 245.0 L286.0 242.6 L287.0 242.6 L287.0 241.3 L288.0 241.3 L288.0 239.1 L289.0 239.1 L289.0 236.3 L290.0 236.3 L290.0 234.5 L291.0 234.5 L291.0 231.5 L292.0 231.5 L292.0 226.8 L293.0 226.8 L293.0 225.2 L294.0 225.2 L294.0 216.0 L295.0 216.0 L295.0 215.7 L296.0 215.7 L296.0 211.2 L297.0 211.2 L297.0 207.3 L298.0 207.3 L298.0 202.5 L299.0 202.5 L299.0 199.8 L300.0 199.8 L300.0 192.9 L301.0 192.9 L301.0 183.9 L302.0 183.9 L302.0 183.9 L303.0 183.9 L303.0 176.8 L304.0 176.8 L304.0 168.7 L305.0 168.7 L305.0 163.4 L306.0 163.4 L306.0 154.9 L307.0 154.9 L307.0 143.0 L308.0 143.0 L308.0 135.4 L309.0 135.4 L309.0 120.7 L310.0 120.7 L310.0 117.4 L311.0 117.4 L311.0 108.4 L312.0 108.4 L312.0 96.5 L313.0 96.5 L313.0 94.6 L314.0 94.6 L314.0 81.9 L315.0 81.9 L315.0 83.1 L316.0 83.1 L316.0 75.6 L317.0 75.6 L317.0 79.9 L318.0 79.9 L318.0 84.8 L319.0 84.8 L319.0 93.9 L320.0 93.9 L320.0 92.4 L321.0 92.4 L321.0 104.1 L322.0 104.1 L322.0 96.3 L323.0 96.3 L323.0 111.2 L324.0 111.2 L324.0 125.3 L325.0 125.3 L325.0 137.2 L326.0 137.2 L326.0 144.8 L327.0 144.8 L327.0 156.9 L328.0 156.9 L328.0 169.7 L329.0 169.7 L329.0 184.5 L330.0 184.5 L330.0 193.4 L331.0 193.4 L331.0 203.1 L332.0 203.1 L332.0 207.2 L333.0 207.2 L333.0 222.1 L334.0 222.1 L334.0 231.1 L335.0 231.1 L335.0 234.7 L336.0 234.7 L336.0 241.7 L337.0 241.7 L337.0 242.3 L338.0 242.3 L338.0 245.1 L339.0 245.1 L339.0 249.1 L340.0 249.1 L340.0 249.5 L341.0 249.5 L341.0 254.3 L342.0 254.3 L342.0 253.8 L343.0 253.8 L343.0 255.2 L344.0 255.2 L344.0 257.6 L345.0 257.6 L345.0 257.3 L346.0 257.3 L346.0 259.6 L347.0 259.6 L347.0 261.1 L348.0 261.1 L348.0 261.2 L349.0 261.2 L349.0 261.5 L350.0 261.5 L350.0 264.0 L351.0 264.0 L351.0 263.8 L352.0 263.8 L352.0 265.3 L353.0 265.3 L353.0 264.4 L354.0 264.4 L354.0 266.0 L355.0 266.0 L355.0 266.7 L356.0 266.7 L356.0 266.3 L357.0 266.3 L357.0 268.3 L358.0 268.3 L358.0 268.2 L359.0 268.2 L359.0 267.0 L360.0 267.0 L360.0 268.5 L361.0 268.5 L361.0 267.9 L362.0 267.9 L362.0 268.8 L363.0 268.8 L363.0 269.3 L364.0 269.3 L364.0 269.2 L365.0 269.2 L365.0 269.2 L366.0 269.2 L366.0 269.3 L367.0 269.3 L367.0 269.5 L368.0 269.5 L368.0 269.5 L369.0 269.5 L369.0 269.8 L370.0 269.8 L370.0 269.3 L371.0 269.3 L371.0 269.2 L372.0 269.2 L372.0 269.1 L373.0 269.1 L373.0 269.9 L374.0 269.9 L374.0 269.2 L375.0 269.2 L375.0 269.5 L376.0 269.5 L376.0 269.8 L377.0 269.8 L377.0 269.5 L378.0 269.5 L378.0 269.3 L379.0 269.3 L379.0 269.4 L380.0 269.4 L380.0 269.4 L381.0 269.4 L381.0 269.4 L382.0 269.4 L382.0 269.4 L383.0 269.4 L383.0 269.7 L384.0 269.7 L384.0 270.1 L385.0 270.1 L385.0 269.9 L386.0 269.9 L386.0 269.6 L387.0 269.6 L387.0 269.9 L388.0 269.9 L388.0 269.6 L389.0 269.6 L389.0 269.6 L390.0 269.6 L390.0 269.8 L391.0 269.8 L391.0 269.5 L392.0 269.5 L392.0 270.1 L393.0 270.1 L393.0 269.7 L394.0 269.7 L394.0 270.0 L395.0 270.0 L395.0 270.1 L396.0 270.1 L396.0 269.9 L397.0 269.9 L397.0 270.1 L398.0 270.1 L398.0 269.9 L399.0 269.9 L399.0 270.2 L400.0 270.2 L400.0 270.1 L401.0 270.1 L401.0 270.2 L402.0 270.2 L402.0 270.1 L403.0 270.1 L403.0 270.2 L404.0 270.2 L404.0 270.3 L405.0 270.3 L405.0 270.1 L406.0 270.1 L406.0 270.3 L407.0 270.3 L407.0 270.3 L408.0 270.3 L408.0 270.1 L409.0 270.1 L409.0 270.1 L410.0 270.1 L410.0 270.2 L411.0 270.2 L411.0 270.2 L412.0 270.2 L412.0 270.0 L413.0 270.0 L413.0 270.4 L414.0 270.4 L414.0 270.4 L415.0 270.4 L415.0 270.4 L416.0 270.4 L416.0 270.2 L417.0 270.2 L417.0 270.3 L418.0 270.3 L418.0 270.2 L419.0 270.2 L419.0 270.3 L420.0 270.3 L420.0 270.4 L421.0 270.4 L421.0 270.4 L422.0 270.4 L422.0 270.5 L423.0 270.5 L423.0 270.2 L424.0 270.2 L424.0 270.3 L425.0 270.3 L425.0 270.4 L426.0 270.4 L426.0 270.4 L427.0 270.4 L427.0 270.4 L428.0 270.4 L428.0 270.5 L429.0 270.5 L429.0 270.5 L430.0 270.5 L430.0 270.7 L431.0 270.7 L431.0 270.5 L432.0 270.5 L432.0 270.7 L433.0 270.7 L433.0 270.5 L434.0 270.5 L434.0 270.7 L435.0 270.7 L435.0 270.7 L436.0 270.7 L436.0 270.7 L437.0 270.7 L437.0 270.7 L438.0 270.7 L438.0 270.7 L439.0 270.7 L439.0 270.7 L440.0 270.7 L440.0 270.7 L441.0 270.7 L441.0 270.7 L442.0 270.7 L442.0 270.7 L443.0 270.7 L443.0 270.7 L444.0 270.7 L444.0 270.7 L445.0 270.7 L445.0 270.7 L446.0 270.7 L446.0 270.7 L447.0 270.7 L447.0 270.7 L448.0 270.7 L448.0 270.7 L449.0 270.7 L449.0 270.7 L450.0 270.7 L450.0 270.7 L451.0 270.7 L451.0 270.7 L452.0 270.7 L452.0 270.7 L453.0 270.7 L453.0 270.7 L454.0 270.7 L454.0 270.7 L455.0 270.7 L455.0 270.7 L456.0 270.7 L456.0 270.7 L457.0 270.7 L457.0 270.7 L458.0 270.7 L458.0 270.7 L459.0 270.7 L459.0 270.7 L460.0 270.7 L460.0 270.7 L461.0 270.7 L461.0 270.7 L462.0 270.7 L462.0 270.7 L463.0 270.7 L463.0 270.7 L464.0 270.7 L464.0 270.7 L465.0 270.7 L465.0 270.7 L466.0 270.7 L466.0 270.7 L467.0 270.7 L467.0 270.7 L468.0 270.7 L468.0 270.7 L469.0 270.7 L469.0 270.7 L470.0 270.7 L470.0 270.7 L471.0 270.7 L471.0 270.7 L472.0 270.7 L472.0 270.7 L473.0 270.7 L473.0 270.7 L474.0 270.7 L474.0 270.7 L475.0 270.7 L475.0 270.7 L476.0 270.7 L476.0 270.7 L477.0 270.7 L477.0 270.7 L478.0 270.7 L478.0 270.7 L479.0 270.7 L479.0 270.7 L480.0 270.7 L480.0 270.7 L481.0 270.7 L481.0 270.7 L482.0 270.7 L482.0 270.7 L483.0 270.7 L483.0 270.7 L484.0 270.7 L484.0 270.7 L485.0 270.7 L485.0 270.7 L486.0 270.7 L486.0 270.7 L487.0 270.7 L487.0 270.7 L488.0 270.7 L488.0 270.7 L489.0 270.7 L489.0 270.7 L490.0 270.7 L490.0 270.7 L491.0 270.7 L491.0 270.7 L492.0 270.7 L492.0 270.7 L493.0 270.7 L493.0 270.7 L494.0 270.7 L494.0 270.7 L495.0 270.7 L495.0 270.7 L496.0 270.7 L496.0 270.7 L497.0 270.7 L497.0 270.7 L498.0 270.7 L498.0 270.7 L499.0 270.7 L499.0 270.7 L500.0 270.7 L500.0 270.7 L501.0 270.7 L501.0 270.7 L502.0 270.7 L502.0 270.7 L503.0 270.7 L503.0 270.7 L504.0 270.7 L504.0 270.7 L505.0 270.7 L505.0 270.7 L506.0 270.7 L506.0 270.7 L507.0 270.7 L507.0 270.7 L508.0 270.7 L508.0 270.7 L509.0 270.7 L509.0 270.7 L510.0 270.7 L510.0 270.7 L511.0 270.7 L511.0 270.7 L512.0 270.7 L512.0 270.7 L513.0 270.7 L513.0 270.7 L514.0 270.7 L514.0 270.7 L515.0 270.7 L515.0 270.7 L516.0 270.7 L516.0 270.7 L517.0 270.7 L517.0 270.7 L518.0 270.7 L518.0 270.7 L519.0 270.7 L519.0 270.7 L520.0 270.7 L520.0 270.7 L521.0 270.7 L521.0 270.7 L522.0 270.7 L522.0 270.7 L523.0 270.7 L523.0 270.7 L524.0 270.7 L524.0 270.7 L525.0 270.7 L525.0 270.7 L526.0 270.7 L526.0 270.7 L527.0 270.7 L527.0 270.7 L528.0 270.7 L528.0 270.7 L529.0 270.7 L529.0 270.7 L530.0 270.7 L530.0 270.7 L531.0 270.7 L531.0 270.7 L532.0 270.7 L532.0 270.7 L533.0 270.7 L533.0 270.7 L534.0 270.7 L534.0 270.7 L535.0 270.7 L535.0 270.7 L536.0 270.7 L536.0 270.7 L537.0 270.7 L537.0 270.7 L538.0 270.7 L538.0 270.7 L539.0 270.7 L539.0 270.7 L540.0 270.7 L540.0 270.7 L541.0 270.7 L541.0 270.7 L542.0 270.7 L542.0 270.7 L543.0 270.7 L543.0 270.7 L544.0 270.7 L544.0 270.7 L545.0 270.7 L545.0 270.7 L546.0 270.7 L546.0 270.7 L547.0 270.7 L547.0 270.7 L548.0 270.7 L548.0 270.7 L549.0 270.7 L549.0 270.7 L550.0 270.7 L550.0 270.7 L551.0 270.7 L551.0 270.7 L552.0 270.7 L552.0 270.2 L553.0 270.2 L553.0 270.2 L554.0 270.2 L554.0 270.1 L555.0 270.1 L555.0 270.0 L556.0 270.0 L556.0 270.1 L557.0 270.1 L557.0 270.1 L558.0 270.1 L558.0 270.2 L559.0 270.2 L559.0 270.0 L560.0 270.0 L560.0 270.1 L561.0 270.1 L561.0 270.0 L562.0 270.0 L562.0 270.1 L563.0 270.1 L563.0 270.1 L564.0 270.1 L564.0 270.2 L565.0 270.2 L565.0 270.1 L566.0 270.1 L566.0 270.0 L567.0 270.0 L567.0 270.1 L568.0 270.1 L568.0 270.0 L569.0 270.0 L569.0 270.1 L570.0 270.1 L570.0 269.9 L571.0 269.9 L571.0 270.1 L572.0 270.1 L572.0 270.7 Z" fill="#6666ff"/>
<clipPath id="hc1"><path d="M3.0 270.7 L3.0 270.4 L4.0 270.4 L4.0 270.0 L5.0 270.0 L5.0 269.8 L6.0 269.8 L6.0 270.0 L7.0 270.0 L7.0 270.0 L8.0 270.0 L8.0 270.1 L9.0 270.1 L9.0 270.4 L10.0 270.4 L10.0 270.3 L11.0 270.3 L11.0 270.3 L12.0 270.3 L12.0 270.1 L13.0 270.1 L13.0 270.1 L14.0 270.1 L14.0 270.0 L15.0 270.0 L15.0 270.2 L16.0 270.2 L16.0 270.1 L17.0 270.1 L17.0 270.3 L18.0 270.3 L18.0 270.4 L19.0 270.4 L19.0 270.4 L20.0 270.4 L20.0 270.7 L21.0 270.7 L21.0 270.7 L22.0 270.7 L22.0 270.7 L23.0 270.7 L23.0 270.7 L24.0 270.7 L24.0 270.7 L25.0 270.7 L25.0 270.7 L26.0 270.7 L26.0 270.7 L27.0 270.7 L27.0 270.7 L28.0 270.7 L28.0 270.7 L29.0 270.7 L29.0 270.7 L30.0 270.7 L30.0 270.7 L31.0 270.7 L31.0 270.7 L32.0 270.7 L32.0 270.7 L33.0 270.7 L33.0 270.7 L34.0 270.7 L34.0 270.7 L35.0 270.7 L35.0 270.7 L36.0 270.7 L36.0 270.7 L37.0 270.7 L37.0 270.7 L38.0 270.7 L38.0 270.7 L39.0 270.7 L39.0 270.7 L40.0 270.7 L40.0 270.7 L41.0 270.7 L41.0 270.7 L42.0 270.7 L42.0 270.7 L43.0 270.7 L43.0 270.7 L44.0 270.7 L44.0 270.7 L45.0 270.7 L45.0 270.7 L46.0 270.7 L46.0 270.7 L47.0 270.7 L47.0 270.7 L48.0 270.7 L48.0 270.7 L49.0 270.7 L49.0 270.7 L50.0 270.7 L50.0 270.7 L51.0 270.7 L51.0 270.7 L52.0 270.7 L52.0 270.7 L53.0 270.7 L53.0 270.7 L54.0 270.7 L54.0 270.7 L55.0 270.7 L55.0 270.7 L56.0 270.7 L56.0 270.7 L57.0 270.7 L57.0 270.7 L58.0 270.7 L58.0 270.7 L59.0 270.7 L59.0 270.7 L60.0 270.7 L60.0 270.7 L61.0 270.7 L61.0 270.7 L62.0 270.7 L62.0 270.7 L63.0 270.7 L63.0 270.7 L64.0 270.7 L64.0 270.7 L65.0 270.7 L65.0 270.7 L66.0 270.7 L66.0 270.7 L67.0 270.7 L67.0 270.7 L68.0 270.7 L68.0 270.7 L69.0 270.7 L69.0 270.7 L70.0 270.7 L70.0 270.7 L71.0 270.7 L71.0 270.7 L72.0 270.7 L72.0 270.7 L73.0 270.7 L73.0 270.7 L74.0 270.7 L74.0 270.7 L75.0 270.7 L75.0 270.7 L76.0 270.7 L76.0 270.7 L77.0 270.7 L77.0 270.7 L78.0 270.7 L78.0 270.7 L79.0 270.7 L79.0 270.7 L80.0 270.7 L80.0 270.7 L81.0 270.7 L81.0 270.7 L82.0 270.7 L82.0 270.7 L83.0 270.7 L83.0 270.7 L84.0 270.7 L84.0 270.7 L85.0 270.7 L85.0 270.7 L86.0 270.7 L86.0 270.7 L87.0 270.7 L87.0 270.7 L88.0 270.7 L88.0 270.7 L89.0 270.7 L89.0 270.7 L90.0 270.7 L90.0 270.7 L91.0 270.7 L91.0 270.7 L92.0 270.7 L92.0 270.7 L93.0 270.7 L93.0 270.7 L94.0 270.7 L94.0 270.7 L95.0 270.7 L95.0 270.7 L96.0 270.7 L96.0 270.7 L97.0 270.7 L97.0 270.7 L98.0 270.7 L98.0 270.7 L99.0 270.7 L99.0 270.7 L100.0 270.7 L100.0 270.7 L101.0 270.7 L101.0 270.7 L102.0 270.7 L102.0 270.7 L103.0 270.7 L103.0 270.7 L104.0 270.7 L104.0 270.7 L105.0 270.7 L105.0 270.7 L106.0 270.7 L106.0 270.7 L107.0 270.7 L107.0 270.7 L108.0 270.7 L108.0 270.7 L109.0 270.7 L109.0 270.7 L110.0 270.7 L110.0 270.7 L111.0 270.7 L111.0 270.7 L112.0 270.7 L112.0 270.7 L113.0 270.7 L113.0 270.7 L114.0 270.7 L114.0 270.7 L115.0 270.7 L115.0 270.7 L116.0 270.7 L116.0 270.7 L117.0 270.7 L117.0 270.7 L118.0 270.7 L118.0 270.7 L119.0 270.7 L119.0 270.7 L120.0 270.7 L120.0 270.7 L121.0 270.7 L121.0 270.7 L122.0 270.7 L122.0 270.7 L123.0 270.7 L123.0 270.7 L124.0 270.7 L124.0 270.7 L125.0 270.7 L125.0 270.7 L126.0 270.7 L126.0 270.7 L127.0 270.7 L127.0 270.7 L128.0 270.7 L128.0 270.7 L129.0 270.7 L129.0 270.7 L130.0 270.7 L130.0 270.7 L131.0 270.7 L131.0 270.7 L132.0 270.7 L132.0 270.7 L133.0 270.7 L133.0 270.7 L134.0 270.7 L134.0 270.7 L135.0 270.7 L135.0 270.7 L136.0 270.7 L136.0 270.7 L137.0 270.7 L137.0 270.7 L138.0 270.7 L138.0 270.7 L139.0 270.7 L139.0 270.7 L140.0 270.7 L140.0 270.7 L141.0 270.7 L141.0 270.7 L142.0 270.7 L142.0 270.7 L143.0 270.7 L143.0 270.7 L144.0 270.7 L144.0 270.7 L145.0 270.7 L145.0 270.7 L146.0 270.7 L146.0 270.7 L147.0 270.7 L147.0 270.7 L148.0 270.7 L148.0 270.7 L149.0 270.7 L149.0 270.7 L150.0 270.7 L150.0 270.7 L151.0 270.7 L151.0 270.7 L152.0 270.7 L152.0 270.7 L153.0 270.7 L153.0 270.7 L154.0 270.7 L154.0 270.7 L155.0 270.7 L155.0 270.7 L156.0 270.7 L156.0 270.7 L157.0 270.7 L157.0 270.7 L158.0 270.7 L158.0 270.7 L159.0 270.7 L159.0 270.7 L160.0 270.7 L160.0 270.7 L161.0 270.7 L161.0 270.7 L162.0 270.7 L162.0 270.7 L163.0 270.7 L163.0 270.7 L164.0 270.7 L164.0 270.7 L165.0 270.7 L165.0 270.7 L166.0 270.7 L166.0 270.7 L167.0 270.7 L167.0 270.7 L168.0 270.7 L168.0 270.7 L169.0 270.7 L169.0 270.7 L170.0 270.7 L170.0 270.7 L171.0 270.7 L171.0 270.7 L172.0 270.7 L172.0 270.7 L173.0 270.7 L173.0 270.7 L174.0 270.7 L174.0 270.7 L175.0 270.7 L175.0 270.7 L176.0 270.7 L176.0 270.7 L177.0 270.7 L177.0 270.7 L178.0 270.7 L178.0 270.7 L179.0 270.7 L179.0 270.4 L180.0 270.4 L180.0 270.2 L181.0 270.2 L181.0 270.2 L182.0 270.2 L182.0 270.3 L183.0 270.3 L183.0 270.2 L184.0 270.2 L184.0 270.3 L185.0 270.3 L185.0 270.1 L186.0 270.1 L186.0 269.9 L187.0 269.9 L187.0 270.0 L188.0 270.0 L188.0 270.2 L189.0 270.2 L189.0 270.1 L190.0 270.1 L190.0 270.0 L191.0 270.0 L191.0 270.3 L192.0 270.3 L192.0 270.0 L193.0 270.0 L193.0 269.9 L194.0 269.9 L194.0 270.0 L195.0 270.0 L195.0 270.0 L196.0 270.0 L196.0 269.9 L197.0 269.9 L197.0 270.0 L198.0 270.0 L198.0 270.1 L199.0 270.1 L199.0 269.6 L200.0 269.6 L200.0 269.8 L201.0 269.8 L201.0 269.4 L202.0 269.4 L202.0 270.0 L203.0 270.0 L203.0 270.1 L204.0 270.1 L204.0 269.4 L205.0 269.4 L205.0 269.4 L206.0 269.4 L206.0 269.8 L207.0 269.8 L207.0 270.0 L208.0 270.0 L208.0 269.5 L209.0 269.5 L209.0 270.0 L210.0 270.0 L210.0 269.5 L211.0 269.5 L211.0 270.1 L212.0 270.1 L212.0 269.4 L213.0 269.4 L213.0 270.0 L214.0 270.0 L214.0 269.3 L215.0 269.3 L215.0 268.6 L216.0 268.6 L216.0 269.2 L217.0 269.2 L217.0 268.7 L218.0 268.7 L218.0 269.3 L219.0 269.3 L219.0 269.3 L220.0 269.3 L220.0 269.5 L221.0 269.5 L221.0 268.2 L222.0 268.2 L222.0 268.7 L223.0 268.7 L223.0 267.8 L224.0 267.8 L224.0 269.1 L225.0 269.1 L225.0 268.6 L226.0 268.6 L226.0 268.3 L227.0 268.3 L227.0 267.5 L228.0 267.5 L228.0 267.2 L229.0 267.2 L229.0 268.6 L230.0 268.6 L230.0 268.7 L231.0 268.7 L231.0 269.2 L232.0 269.2 L232.0 267.0 L233.0 267.0 L233.0 267.8 L234.0 267.8 L234.0 268.1 L235.0 268.1 L235.0 267.7 L236.0 267.7 L236.0 269.4 L237.0 269.4 L237.0 268.6 L238.0 268.6 L238.0 266.6 L239.0 266.6 L239.0 267.0 L240.0 267.0 L240.0 266.9 L241.0 266.9 L241.0 267.8 L242.0 267.8 L242.0 266.6 L243.0 266.6 L243.0 265.5 L244.0 265.5 L244.0 267.6 L245.0 267.6 L245.0 266.6 L246.0 266.6 L246.0 266.9 L247.0 266.9 L247.0 265.9 L248.0 265.9 L248.0 266.3 L249.0 266.3 L249.0 266.4 L250.0 266.4 L250.0 266.6 L251.0 266.6 L251.0 265.9 L252.0 265.9 L252.0 266.1 L253.0 266.1 L253.0 265.8 L254.0 265.8 L254.0 265.5 L255.0 265.5 L255.0 264.9 L256.0 264.9 L256.0 265.7 L257.0 265.7 L257.0 264.9 L258.0 264.9 L258.0 263.6 L259.0 263.6 L259.0 264.1 L260.0 264.1 L260.0 263.5 L261.0 263.5 L261.0 262.2 L262.0 262.2 L262.0 262.3 L263.0 262.3 L263.0 262.1 L264.0 262.1 L264.0 261.1 L265.0 261.1 L265.0 262.1 L266.0 262.1 L266.0 260.2 L267.0 260.2 L267.0 258.7 L268.0 258.7 L268.0 259.2 L269.0 259.2 L269.0 259.8 L270.0 259.8 L270.0 258.1 L271.0 258.1 L271.0 258.1 L272.0 258.1 L272.0 257.7 L273.0 257.7 L273.0 256.8 L274.0 256.8 L274.0 256.8 L275.0 256.8 L275.0 255.5 L276.0 255.5 L276.0 253.6 L277.0 253.6 L277.0 253.8 L278.0 253.8 L278.0 253.2 L279.0 253.2 L279.0 251.2 L280.0 251.2 L280.0 250.9 L281.0 250.9 L281.0 252.7 L282.0 252.7 L282.0 249.6 L283.0 249.6 L283.0 249.6 L284.0 249.6 L284.0 247.6 L285.0 247.6 L285.0 245.0 L286.0 245.0 L286.0 242.6 L287.0 242.6 L287.0 241.3 L288.0 241.3 L288.0 239.1 L289.0 239.1 L289.0 236.3 L290.0 236.3 L290.0 234.5 L291.0 234.5 L291.0 231.5 L292.0 231.5 L292.0 226.8 L293.0 226.8 L293.0 225.2 L294.0 225.2 L294.0 216.0 L295.0 216.0 L295.0 215.7 L296.0 215.7 L296.0 211.2 L297.0 211.2 L297.0 207.3 L298.0 207.3 L298.0 202.5 L299.0 202.5 L299.0 199.8 L300.0 199.8 L300.0 192.9 L301.0 192.9 L301.0 183.9 L302.0 183.9 L302.0 183.9 L303.0 183.9 L303.0 176.8 L304.0 176.8 L304.0 168.7 L305.0 168.7 L305.0 163.4 L306.0 163.4 L306.0 154.9 L307.0 154.9 L307.0 143.0 L308.0 143.0 L308.0 135.4 L309.0 135.4 L309.0 120.7 L310.0 120.7 L310.0 117.4 L311.0 117.4 L311.0 108.4 L312.0 108.4 L312.0 96.5 L313.0 96.5 L313.0 94.6 L314.0 94.6 L314.0 81.9 L315.0 81.9 L315.0 83.1 L316.0 83.1 L316.0 75.6 L317.0 75.6 L317.0 79.9 L318.0 79.9 L318.0 84.8 L319.0 84.8 L319.0 93.9 L320.0 93.9 L320.0 92.4 L321.0 92.4 L321.0 104.1 L322.0 104.1 L322.0 96.3 L323.0 96.3 L323.0 111.2 L324.0 111.2 L324.0 125.3 L325.0 125.3 L325.0 137.2 L326.0 137.2 L326.0 144.8 L327.0 144.8 L327.0 156.9 L328.0 156.9 L328.0 169.7 L329.0 169.7 L329.0 184.5 L330.0 184.5 L330.0 193.4 L331.0 193.4 L331.0 203.1 L332.0 203.1 L332.0 207.2 L333.0 207.2 L333.0 222.1 L334.0 222.1 L334.0 231.1 L335.0 231.1 L335.0 234.7 L336.0 234.7 L336.0 241.7 L337.0 241.7 L337.0 242.3 L338.0 242.3 L338.0 245.1 L339.0 245.1 L339.0 249.1 L340.0 249.1 L340.0 249.5 L341.0 249.5 L341.0 254.3 L342.0 254.3 L342.0 253.8 L343.0 253.8 L343.0 255.2 L344.0 255.2 L344.0 257.6 L345.0 257.6 L345.0 257.3 L346.0 257.3 L346.0 259.6 L347.0 259.6 L347.0 261.1 L348.0 261.1 L348.0 261.2 L349.0 261.2 L349.0 261.5 L350.0 261.5 L350.0 264.0 L351.0 264.0 L351.0 263.8 L352.0 263.8 L352.0 265.3 L353.0 265.3 L353.0 264.4 L354.0 264.4 L354.0 266.0 L355.0 266.0 L355.0 266.7 L356.0 266.7 L356.0 266.3 L357.0 266.3 L357.0 268.3 L358.0 268.3 L358.0 268.2 L359.0 268.2 L359.0 267.0 L360.0 267.0 L360.0 268.5 L361.0 268.5 L361.0 267.9 L362.0 267.9 L362.0 268.8 L363.0 268.8 L363.0 269.3 L364.0 269.3 L364.0 269.2 L365.0 269.2 L365.0 269.2 L366.0 269.2 L366.0 269.3 L367.0 269.3 L367.0 269.5 L368.0 269.5 L368.0 269.5 L369.0 269.5 L369.0 269.8 L370.0 269.8 L370.0 269.3 L371.0 269.3 L371.0 269.2 L372.0 269.2 L372.0 269.1 L373.0 269.1 L373.0 269.9 L374.0 269.9 L374.0 269.2 L375.0 269.2 L375.0 269.5 L376.0 269.5 L376.0 269.8 L377.0 269.8 L377.0 269.5 L378.0 269.5 L378.0 269.3 L379.0 269.3 L379.0 269.4 L380.0 269.4 L380.0 269.4 L381.0 269.4 L381.0 269.4 L382.0 269.4 L382.0 269.4 L383.0 269.4 L383.0 269.7 L384.0 269.7 L384.0 270.1 L385.0 270.1 L385.0 269.9 L386.0 269.9 L386.0 269.6 L387.0 269.6 L387.0 269.9 L388.0 269.9 L388.0 269.6 L389.0 269.6 L389.0 269.6 L390.0 269.6 L390.0 269.8 L391.0 269.8 L391.0 269.5 L392.0 269.5 L392.0 270.1 L393.0 270.1 L393.0 269.7 L394.0 269.7 L394.0 270.0 L395.0 270.0 L395.0 270.1 L396.0 270.1 L396.0 269.9 L397.0 269.9 L397.0 270.1 L398.0 270.1 L398.0 269.9 L399.0 269.9 L399.0 270.2 L400.0 270.2 L400.0 270.1 L401.0 270.1 L401.0 270.2 L402.0 270.2 L402.0 270.1 L403.0 270.1 L403.0 270.2 L404.0 270.2 L404.0 270.3 L405.0 270.3 L405.0 270.1 L406.0 270.1 L406.0 270.3 L407.0 270.3 L407.0 270.3 L408.0 270.3 L408.0 270.1 L409.0 270.1 L409.0 270.1 L410.0 270.1 L410.0 270.2 L411.0 270.2 L411.0 270.2 L412.0 270.2 L412.0 270.0 L413.0 270.0 L413.0 270.4 L414.0 270.4 L414.0 270.4 L415.0 270.4 L415.0 270.4 L416.0 270.4 L416.0 270.2 L417.0 270.2 L417.0 270.3 L418.0 270.3 L418.0 270.2 L419.0 270.2 L419.0 270.3 L420.0 270.3 L420.0 270.4 L421.0 270.4 L421.0 270.4 L422.0 270.4 L422.0 270.5 L423.0 270.5 L423.0 270.2 L424.0 270.2 L424.0 270.3 L425.0 270.3 L425.0 270.4 L426.0 270.4 L426.0 270.4 L427.0 270.4 L427.0 270.4 L428.0 270.4 L428.0 270.5 L429.0 270.5 L429.0 270.5 L430.0 270.5 L430.0 270.7 L431.0 270.7 L431.0 270.5 L432.0 270.5 L432.0 270.7 L433.0 270.7 L433.0 270.5 L434.0 270.5 L434.0 270.7 L435.0 270.7 L435.0 270.7 L436.0 270.7 L436.0 270.7 L437.0 270.7 L437.0 270.7 L438.0 270.7 L438.0 270.7 L439.0 270.7 L439.0 270.7 L440.0 270.7 L440.0 270.7 L441.0 270.7 L441.0 270.7 L442.0 270.7 L442.0 270.7 L443.0 270.7 L443.0 270.7 L444.0 270.7 L444.0 270.7 L445.0 270.7 L445.0 270.7 L446.0 270.7 L446.0 270.7 L447.0 270.7 L447.0 270.7 L448.0 270.7 L448.0 270.7 L449.0 270.7 L449.0 270.7 L450.0 270.7 L450.0 270.7 L451.0 270.7 L451.0 270.7 L452.0 270.7 L452.0 270.7 L453.0 270.7 L453.0 270.7 L454.0 270.7 L454.0 270.7 L455.0 270.7 L455.0 270.7 L456.0 270.7 L456.0 270.7 L457.0 270.7 L457.0 270.7 L458.0 270.7 L458.0 270.7 L459.0 270.7 L459.0 270.7 L460.0 270.7 L460.0 270.7 L461.0 270.7 L461.0 270.7 L462.0 270.7 L462.0 270.7 L463.0 270.7 L463.0 270.7 L464.0 270.7 L464.0 270.7 L465.0 270.7 L465.0 270.7 L466.0 270.7 L466.0 270.7 L467.0 270.7 L467.0 270.7 L468.0 270.7 L468.0 270.7 L469.0 270.7 L469.0 270.7 L470.0 270.7 L470.0 270.7 L471.0 270.7 L471.0 270.7 L472.0 270.7 L472.0 270.7 L473.0 270.7 L473.0 270.7 L474.0 270.7 L474.0 270.7 L475.0 270.7 L475.0 270.7 L476.0 270.7 L476.0 270.7 L477.0 270.7 L477.0 270.7 L478.0 270.7 L478.0 270.7 L479.0 270.7 L479.0 270.7 L480.0 270.7 L480.0 270.7 L481.0 270.7 L481.0 270.7 L482.0 270.7 L482.0 270.7 L483.0 270.7 L483.0 270.7 L484.0 270.7 L484.0 270.7 L485.0 270.7 L485.0 270.7 L486.0 270.7 L486.0 270.7 L487.0 270.7 L487.0 270.7 L488.0 270.7 L488.0 270.7 L489.0 270.7 L489.0 270.7 L490.0 270.7 L490.0 270.7 L491.0 270.7 L491.0 270.7 L492.0 270.7 L492.0 270.7 L493.0 270.7 L493.0 270.7 L494.0 270.7 L494.0 270.7 L495.0 270.7 L495.0 270.7 L496.0 270.7 L496.0 270.7 L497.0 270.7 L497.0 270.7 L498.0 270.7 L498.0 270.7 L499.0 270.7 L499.0 270.7 L500.0 270.7 L500.0 270.7 L501.0 270.7 L501.0 270.7 L502.0 270.7 L502.0 270.7 L503.0 270.7 L503.0 270.7 L504.0 270.7 L504.0 270.7 L505.0 270.7 L505.0 270.7 L506.0 270.7 L506.0 270.7 L507.0 270.7 L507.0 270.7 L508.0 270.7 L508.0 270.7 L509.0 270.7 L509.0 270.7 L510.0 270.7 L510.0 270.7 L511.0 270.7 L511.0 270.7 L512.0 270.7 L512.0 270.7 L513.0 270.7 L513.0 270.7 L514.0 270.7 L514.0 270.7 L515.0 270.7 L515.0 270.7 L516.0 270.7 L516.0 270.7 L517.0 270.7 L517.0 270.7 L518.0 270.7 L518.0 270.7 L519.0 270.7 L519.0 270.7 L520.0 270.7 L520.0 270.7 L521.0 270.7 L521.0 270.7 L522.0 270.7 L522.0 270.7 L523.0 270.7 L523.0 270.7 L524.0 270.7 L524.0 270.7 L525.0 270.7 L525.0 270.7 L526.0 270.7 L526.0 270.7 L527.0 270.7 L527.0 270.7 L528.0 270.7 L528.0 270.7 L529.0 270.7 L529.0 270.7 L530.0 270.7 L530.0 270.7 L531.0 270.7 L531.0 270.7 L532.0 270.7 L532.0 270.7 L533.0 270.7 L533.0 270.7 L534.0 270.7 L534.0 270.7 L535.0 270.7 L535.0 270.7 L536.0 270.7 L536.0 270.7 L537.0 270.7 L537.0 270.7 L538.0 270.7 L538.0 270.7 L539.0 270.7 L539.0 270.7 L540.0 270.7 L540.0 270.7 L541.0 270.7 L541.0 270.7 L542.0 270.7 L542.0 270.7 L543.0 270.7 L543.0 270.7 L544.0 270.7 L544.0 270.7 L545.0 270.7 L545.0 270.7 L546.0 270.7 L546.0 270.7 L547.0 270.7 L547.0 270.7 L548.0 270.7 L548.0 270.7 L549.0 270.7 L549.0 270.7 L550.0 270.7 L550.0 270.7 L551.0 270.7 L551.0 270.7 L552.0 270.7 L552.0 270.2 L553.0 270.2 L553.0 270.2 L554.0 270.2 L554.0 270.1 L555.0 270.1 L555.0 270.0 L556.0 270.0 L556.0 270.1 L557.0 270.1 L557.0 270.1 L558.0 270.1 L558.0 270.2 L559.0 270.2 L559.0 270.0 L560.0 270.0 L560.0 270.1 L561.0 270.1 L561.0 270.0 L562.0 270.0 L562.0 270.1 L563.0 270.1 L563.0 270.1 L564.0 270.1 L564.0 270.2 L565.0 270.2 L565.0 270.1 L566.0 270.1 L566.0 270.0 L567.0 270.0 L567.0 270.1 L568.0 270.1 L568.0 270.0 L569.0 270.0 L569.0 270.1 L570.0 270.1 L570.0 269.9 L571.0 269.9 L571.0 270.1 L572.0 270.1 L572.0 270.7 Z"/></clipPath>
<line x1="181.2" y1="238.6" x2="181.2" y2="270.7" stroke="#000" stroke-width="1.6"/>
<line x1="259.0" y1="216.9" x2="259.0" y2="270.7" stroke="#000" stroke-width="1.6"/>
<line x1="301.2" y1="110.9" x2="301.2" y2="270.7" stroke="#000" stroke-width="1.6"/>
<line x1="331.3" y1="110.9" x2="331.3" y2="270.7" stroke="#000" stroke-width="1.6"/>
<line x1="354.0" y1="217.1" x2="354.0" y2="270.7" stroke="#000" stroke-width="1.6"/>
<line x1="435.6" y1="238.6" x2="435.6" y2="270.7" stroke="#000" stroke-width="1.6"/>
<line x1="316.2" y1="46.5" x2="316.2" y2="283" stroke="#c47a8c" stroke-width="1.7"/>
<line x1="316.2" y1="46.5" x2="316.2" y2="283" stroke="#8048c4" stroke-width="2.1" clip-path="url(#hc1)"/>
<line x1="31.8" y1="83.9" x2="46.4" y2="83.9" stroke="#d6d6d6" stroke-width="1"/>
<text x="53.30" y="87.20" font-size="9.3" text-anchor="start" fill="#000" stroke="#000" stroke-width="0.15" textLength="90.0" lengthAdjust="spacingAndGlyphs">[-0.48,0.49] @ 0.6827</text>
<line x1="31.8" y1="101.25" x2="46.4" y2="101.25" stroke="#d6d6d6" stroke-width="1"/>
<text x="53.30" y="104.55" font-size="9.3" text-anchor="start" fill="#000" stroke="#000" stroke-width="0.15" textLength="80.0" lengthAdjust="spacingAndGlyphs">[-1.84,1.22] @ 0.95</text>
<line x1="31.8" y1="118.60000000000001" x2="46.4" y2="118.60000000000001" stroke="#d6d6d6" stroke-width="1"/>
<text x="53.30" y="121.90" font-size="9.3" text-anchor="start" fill="#000" stroke="#000" stroke-width="0.15" textLength="90.0" lengthAdjust="spacingAndGlyphs">[-4.34,3.84] @ 0.9973</text>
<line x1="5.4" y1="283" x2="5.4" y2="280.5" stroke="#333" stroke-width="0.9"/>
<text x="0.80" y="293.30" font-size="8.8" text-anchor="start" fill="#111" textLength="11.1" lengthAdjust="spacingAndGlyphs">-10</text>
<line x1="67.6" y1="283" x2="67.6" y2="280.5" stroke="#c8c8c8" stroke-width="0.9"/>
<text x="67.60" y="293.30" font-size="8.8" text-anchor="middle" fill="#111" textLength="7.0" lengthAdjust="spacingAndGlyphs">-8</text>
<line x1="129.8" y1="283" x2="129.8" y2="280.5" stroke="#c8c8c8" stroke-width="0.9"/>
<text x="129.80" y="293.30" font-size="8.8" text-anchor="middle" fill="#111" textLength="7.0" lengthAdjust="spacingAndGlyphs">-6</text>
<line x1="192.0" y1="283" x2="192.0" y2="280.5" stroke="#c8c8c8" stroke-width="0.9"/>
<text x="192.00" y="293.30" font-size="8.8" text-anchor="middle" fill="#111" textLength="7.0" lengthAdjust="spacingAndGlyphs">-4</text>
<line x1="254.2" y1="283" x2="254.2" y2="280.5" stroke="#c8c8c8" stroke-width="0.9"/>
<text x="254.20" y="293.30" font-size="8.8" text-anchor="middle" fill="#111" textLength="7.0" lengthAdjust="spacingAndGlyphs">-2</text>
<line x1="316.4" y1="283" x2="316.4" y2="280.5" stroke="#333" stroke-width="0.9"/>
<text x="316.40" y="293.30" font-size="8.8" text-anchor="middle" fill="#111" textLength="4.0" lengthAdjust="spacingAndGlyphs">0</text>
<line x1="378.6" y1="283" x2="378.6" y2="280.5" stroke="#c8c8c8" stroke-width="0.9"/>
<text x="378.60" y="293.30" font-size="8.8" text-anchor="middle" fill="#111" textLength="4.0" lengthAdjust="spacingAndGlyphs">2</text>
<line x1="440.8" y1="283" x2="440.8" y2="280.5" stroke="#c8c8c8" stroke-width="0.9"/>
<text x="440.80" y="293.30" font-size="8.8" text-anchor="middle" fill="#111" textLength="4.0" lengthAdjust="spacingAndGlyphs">4</text>
<line x1="503.0" y1="283" x2="503.0" y2="280.5" stroke="#c8c8c8" stroke-width="0.9"/>
<text x="503.00" y="293.30" font-size="8.8" text-anchor="middle" fill="#111" textLength="4.0" lengthAdjust="spacingAndGlyphs">6</text>
<line x1="565.2" y1="283" x2="565.2" y2="280.5" stroke="#c8c8c8" stroke-width="0.9"/>
<text x="565.20" y="293.30" font-size="8.8" text-anchor="middle" fill="#111" textLength="4.0" lengthAdjust="spacingAndGlyphs">8</text>
<text x="285.80" y="309.80" font-size="7.6" text-anchor="middle" fill="#000" textLength="50.0" lengthAdjust="spacingAndGlyphs">Reading blocks</text>
<text x="864.60" y="38.60" font-size="11.5" text-anchor="middle" fill="#000" stroke="#000" stroke-width="0.15" textLength="253.0" lengthAdjust="spacingAndGlyphs">Distribution of duration (R - D) errors due to noise</text>
<rect x="579.5" y="45.8" width="571.0" height="238.2" fill="none" stroke="#6a6a6a" stroke-width="1.7"/>
<line x1="580.5" y1="270.5" x2="1149.5" y2="270.5" stroke="#b0b0b0" stroke-width="1.2"/>
<path d="M580.5 270.5 L580.5 269.7 L581.5 269.7 L581.5 269.6 L582.5 269.6 L582.5 269.7 L583.5 269.7 L583.5 269.8 L584.5 269.8 L584.5 269.5 L585.5 269.5 L585.5 269.4 L586.5 269.4 L586.5 269.8 L587.5 269.8 L587.5 269.8 L588.5 269.8 L588.5 270.0 L589.5 270.0 L589.5 269.8 L590.5 269.8 L590.5 269.9 L591.5 269.9 L591.5 269.8 L592.5 269.8 L592.5 269.9 L593.5 269.9 L593.5 269.8 L594.5 269.8 L594.5 269.8 L595.5 269.8 L595.5 269.7 L596.5 269.7 L596.5 269.7 L597.5 269.7 L597.5 270.0 L598.5 270.0 L598.5 270.2 L599.5 270.2 L599.5 270.1 L600.5 270.1 L600.5 270.2 L601.5 270.2 L601.5 270.5 L602.5 270.5 L602.5 270.5 L603.5 270.5 L603.5 270.5 L604.5 270.5 L604.5 270.5 L605.5 270.5 L605.5 270.5 L606.5 270.5 L606.5 270.5 L607.5 270.5 L607.5 270.5 L608.5 270.5 L608.5 270.5 L609.5 270.5 L609.5 270.5 L610.5 270.5 L610.5 270.5 L611.5 270.5 L611.5 270.5 L612.5 270.5 L612.5 270.5 L613.5 270.5 L613.5 270.5 L614.5 270.5 L614.5 270.5 L615.5 270.5 L615.5 270.5 L616.5 270.5 L616.5 270.5 L617.5 270.5 L617.5 270.5 L618.5 270.5 L618.5 270.5 L619.5 270.5 L619.5 270.5 L620.5 270.5 L620.5 270.5 L621.5 270.5 L621.5 270.5 L622.5 270.5 L622.5 270.5 L623.5 270.5 L623.5 270.5 L624.5 270.5 L624.5 270.5 L625.5 270.5 L625.5 270.5 L626.5 270.5 L626.5 270.5 L627.5 270.5 L627.5 270.5 L628.5 270.5 L628.5 270.5 L629.5 270.5 L629.5 270.5 L630.5 270.5 L630.5 270.5 L631.5 270.5 L631.5 270.5 L632.5 270.5 L632.5 270.5 L633.5 270.5 L633.5 270.5 L634.5 270.5 L634.5 270.5 L635.5 270.5 L635.5 270.5 L636.5 270.5 L636.5 270.5 L637.5 270.5 L637.5 270.5 L638.5 270.5 L638.5 270.5 L639.5 270.5 L639.5 270.5 L640.5 270.5 L640.5 270.5 L641.5 270.5 L641.5 270.5 L642.5 270.5 L642.5 270.5 L643.5 270.5 L643.5 270.5 L644.5 270.5 L644.5 270.5 L645.5 270.5 L645.5 270.5 L646.5 270.5 L646.5 270.5 L647.5 270.5 L647.5 270.5 L648.5 270.5 L648.5 270.5 L649.5 270.5 L649.5 270.5 L650.5 270.5 L650.5 270.5 L651.5 270.5 L651.5 270.5 L652.5 270.5 L652.5 270.5 L653.5 270.5 L653.5 270.5 L654.5 270.5 L654.5 270.5 L655.5 270.5 L655.5 270.5 L656.5 270.5 L656.5 270.5 L657.5 270.5 L657.5 270.5 L658.5 270.5 L658.5 270.5 L659.5 270.5 L659.5 270.5 L660.5 270.5 L660.5 270.5 L661.5 270.5 L661.5 270.5 L662.5 270.5 L662.5 270.5 L663.5 270.5 L663.5 270.5 L664.5 270.5 L664.5 270.5 L665.5 270.5 L665.5 270.5 L666.5 270.5 L666.5 270.5 L667.5 270.5 L667.5 270.5 L668.5 270.5 L668.5 270.5 L669.5 270.5 L669.5 270.5 L670.5 270.5 L670.5 270.5 L671.5 270.5 L671.5 270.5 L672.5 270.5 L672.5 270.5 L673.5 270.5 L673.5 270.5 L674.5 270.5 L674.5 270.5 L675.5 270.5 L675.5 270.5 L676.5 270.5 L676.5 270.5 L677.5 270.5 L677.5 270.5 L678.5 270.5 L678.5 270.5 L679.5 270.5 L679.5 270.5 L680.5 270.5 L680.5 270.5 L681.5 270.5 L681.5 270.5 L682.5 270.5 L682.5 270.5 L683.5 270.5 L683.5 270.5 L684.5 270.5 L684.5 270.5 L685.5 270.5 L685.5 270.5 L686.5 270.5 L686.5 270.5 L687.5 270.5 L687.5 270.5 L688.5 270.5 L688.5 270.5 L689.5 270.5 L689.5 270.5 L690.5 270.5 L690.5 270.5 L691.5 270.5 L691.5 270.5 L692.5 270.5 L692.5 270.5 L693.5 270.5 L693.5 270.5 L694.5 270.5 L694.5 270.5 L695.5 270.5 L695.5 270.5 L696.5 270.5 L696.5 270.5 L697.5 270.5 L697.5 270.5 L698.5 270.5 L698.5 270.5 L699.5 270.5 L699.5 270.5 L700.5 270.5 L700.5 270.5 L701.5 270.5 L701.5 270.5 L702.5 270.5 L702.5 270.5 L703.5 270.5 L703.5 270.5 L704.5 270.5 L704.5 270.5 L705.5 270.5 L705.5 270.5 L706.5 270.5 L706.5 270.5 L707.5 270.5 L707.5 270.5 L708.5 270.5 L708.5 270.5 L709.5 270.5 L709.5 270.5 L710.5 270.5 L710.5 270.2 L711.5 270.2 L711.5 270.5 L712.5 270.5 L712.5 270.2 L713.5 270.2 L713.5 270.1 L714.5 270.1 L714.5 270.5 L715.5 270.5 L715.5 270.1 L716.5 270.1 L716.5 270.2 L717.5 270.2 L717.5 270.5 L718.5 270.5 L718.5 270.0 L719.5 270.0 L719.5 270.1 L720.5 270.1 L720.5 270.1 L721.5 270.1 L721.5 270.1 L722.5 270.1 L722.5 269.8 L723.5 269.8 L723.5 269.7 L724.5 269.7 L724.5 269.9 L725.5 269.9 L725.5 269.8 L726.5 269.8 L726.5 269.9 L727.5 269.9 L727.5 269.8 L728.5 269.8 L728.5 269.9 L729.5 269.9 L729.5 269.7 L730.5 269.7 L730.5 269.9 L731.5 269.9 L731.5 269.5 L732.5 269.5 L732.5 269.5 L733.5 269.5 L733.5 269.4 L734.5 269.4 L734.5 269.3 L735.5 269.3 L735.5 268.9 L736.5 268.9 L736.5 270.0 L737.5 270.0 L737.5 269.4 L738.5 269.4 L738.5 269.5 L739.5 269.5 L739.5 269.4 L740.5 269.4 L740.5 269.7 L741.5 269.7 L741.5 269.2 L742.5 269.2 L742.5 269.1 L743.5 269.1 L743.5 269.3 L744.5 269.3 L744.5 269.1 L745.5 269.1 L745.5 269.0 L746.5 269.0 L746.5 269.8 L747.5 269.8 L747.5 268.0 L748.5 268.0 L748.5 268.6 L749.5 268.6 L749.5 268.9 L750.5 268.9 L750.5 268.5 L751.5 268.5 L751.5 268.8 L752.5 268.8 L752.5 269.4 L753.5 269.4 L753.5 267.8 L754.5 267.8 L754.5 269.1 L755.5 269.1 L755.5 268.1 L756.5 268.1 L756.5 268.0 L757.5 268.0 L757.5 267.2 L758.5 267.2 L758.5 266.9 L759.5 266.9 L759.5 267.7 L760.5 267.7 L760.5 268.2 L761.5 268.2 L761.5 268.2 L762.5 268.2 L762.5 267.1 L763.5 267.1 L763.5 266.2 L764.5 266.2 L764.5 266.5 L765.5 266.5 L765.5 267.7 L766.5 267.7 L766.5 265.9 L767.5 265.9 L767.5 267.6 L768.5 267.6 L768.5 266.7 L769.5 266.7 L769.5 267.1 L770.5 267.1 L770.5 265.8 L771.5 265.8 L771.5 266.1 L772.5 266.1 L772.5 266.1 L773.5 266.1 L773.5 265.5 L774.5 265.5 L774.5 265.5 L775.5 265.5 L775.5 268.0 L776.5 268.0 L776.5 267.3 L777.5 267.3 L777.5 265.8 L778.5 265.8 L778.5 265.3 L779.5 265.3 L779.5 263.8 L780.5 263.8 L780.5 264.8 L781.5 264.8 L781.5 264.3 L782.5 264.3 L782.5 263.8 L783.5 263.8 L783.5 263.7 L784.5 263.7 L784.5 263.3 L785.5 263.3 L785.5 262.4 L786.5 262.4 L786.5 264.0 L787.5 264.0 L787.5 263.9 L788.5 263.9 L788.5 262.0 L789.5 262.0 L789.5 263.1 L790.5 263.1 L790.5 261.5 L791.5 261.5 L791.5 261.4 L792.5 261.4 L792.5 260.3 L793.5 260.3 L793.5 260.6 L794.5 260.6 L794.5 259.6 L795.5 259.6 L795.5 261.2 L796.5 261.2 L796.5 261.6 L797.5 261.6 L797.5 260.2 L798.5 260.2 L798.5 257.2 L799.5 257.2 L799.5 260.4 L800.5 260.4 L800.5 258.7 L801.5 258.7 L801.5 258.7 L802.5 258.7 L802.5 257.1 L803.5 257.1 L803.5 258.7 L804.5 258.7 L804.5 257.0 L805.5 257.0 L805.5 253.8 L806.5 253.8 L806.5 255.4 L807.5 255.4 L807.5 252.2 L808.5 252.2 L808.5 251.5 L809.5 251.5 L809.5 253.2 L810.5 253.2 L810.5 250.8 L811.5 250.8 L811.5 249.4 L812.5 249.4 L812.5 246.9 L813.5 246.9 L813.5 246.3 L814.5 246.3 L814.5 246.0 L815.5 246.0 L815.5 246.3 L816.5 246.3 L816.5 247.0 L817.5 247.0 L817.5 244.2 L818.5 244.2 L818.5 244.8 L819.5 244.8 L819.5 243.2 L820.5 243.2 L820.5 243.7 L821.5 243.7 L821.5 239.4 L822.5 239.4 L822.5 239.7 L823.5 239.7 L823.5 239.2 L824.5 239.2 L824.5 237.0 L825.5 237.0 L825.5 235.9 L826.5 235.9 L826.5 235.9 L827.5 235.9 L827.5 236.2 L828.5 236.2 L828.5 233.1 L829.5 233.1 L829.5 230.9 L830.5 230.9 L830.5 228.8 L831.5 228.8 L831.5 227.4 L832.5 227.4 L832.5 225.5 L833.5 225.5 L833.5 224.0 L834.5 224.0 L834.5 223.1 L835.5 223.1 L835.5 221.6 L836.5 221.6 L836.5 215.1 L837.5 215.1 L837.5 215.5 L838.5 215.5 L838.5 213.5 L839.5 213.5 L839.5 210.4 L840.5 210.4 L840.5 203.7 L841.5 203.7 L841.5 201.3 L842.5 201.3 L842.5 195.6 L843.5 195.6 L843.5 193.2 L844.5 193.2 L844.5 185.9 L845.5 185.9 L845.5 181.7 L846.5 181.7 L846.5 172.5 L847.5 172.5 L847.5 167.2 L848.5 167.2 L848.5 161.4 L849.5 161.4 L849.5 154.3 L850.5 154.3 L850.5 146.0 L851.5 146.0 L851.5 136.1 L852.5 136.1 L852.5 127.1 L853.5 127.1 L853.5 118.4 L854.5 118.4 L854.5 117.3 L855.5 117.3 L855.5 115.1 L856.5 115.1 L856.5 99.2 L857.5 99.2 L857.5 97.6 L858.5 97.6 L858.5 81.7 L859.5 81.7 L859.5 80.5 L860.5 80.5 L860.5 85.5 L861.5 85.5 L861.5 69.8 L862.5 69.8 L862.5 66.6 L863.5 66.6 L863.5 78.9 L864.5 78.9 L864.5 64.3 L865.5 64.3 L865.5 60.1 L866.5 60.1 L866.5 70.0 L867.5 70.0 L867.5 67.0 L868.5 67.0 L868.5 69.9 L869.5 69.9 L869.5 65.2 L870.5 65.2 L870.5 68.9 L871.5 68.9 L871.5 59.6 L872.5 59.6 L872.5 76.3 L873.5 76.3 L873.5 75.6 L874.5 75.6 L874.5 86.9 L875.5 86.9 L875.5 91.7 L876.5 91.7 L876.5 103.7 L877.5 103.7 L877.5 118.6 L878.5 118.6 L878.5 121.3 L879.5 121.3 L879.5 119.4 L880.5 119.4 L880.5 124.4 L881.5 124.4 L881.5 134.8 L882.5 134.8 L882.5 143.3 L883.5 143.3 L883.5 156.3 L884.5 156.3 L884.5 157.5 L885.5 157.5 L885.5 165.3 L886.5 165.3 L886.5 174.3 L887.5 174.3 L887.5 177.4 L888.5 177.4 L888.5 184.7 L889.5 184.7 L889.5 187.4 L890.5 187.4 L890.5 190.9 L891.5 190.9 L891.5 196.9 L892.5 196.9 L892.5 200.1 L893.5 200.1 L893.5 201.5 L894.5 201.5 L894.5 209.1 L895.5 209.1 L895.5 212.5 L896.5 212.5 L896.5 216.8 L897.5 216.8 L897.5 219.7 L898.5 219.7 L898.5 218.7 L899.5 218.7 L899.5 221.8 L900.5 221.8 L900.5 226.6 L901.5 226.6 L901.5 227.7 L902.5 227.7 L902.5 229.0 L903.5 229.0 L903.5 232.1 L904.5 232.1 L904.5 232.5 L905.5 232.5 L905.5 236.8 L906.5 236.8 L906.5 236.7 L907.5 236.7 L907.5 240.4 L908.5 240.4 L908.5 238.8 L909.5 238.8 L909.5 240.4 L910.5 240.4 L910.5 242.7 L911.5 242.7 L911.5 245.5 L912.5 245.5 L912.5 247.1 L913.5 247.1 L913.5 246.5 L914.5 246.5 L914.5 247.2 L915.5 247.2 L915.5 247.3 L916.5 247.3 L916.5 248.8 L917.5 248.8 L917.5 248.1 L918.5 248.1 L918.5 250.1 L919.5 250.1 L919.5 251.1 L920.5 251.1 L920.5 252.1 L921.5 252.1 L921.5 252.9 L922.5 252.9 L922.5 253.8 L923.5 253.8 L923.5 253.1 L924.5 253.1 L924.5 253.9 L925.5 253.9 L925.5 257.0 L926.5 257.0 L926.5 254.7 L927.5 254.7 L927.5 256.2 L928.5 256.2 L928.5 255.7 L929.5 255.7 L929.5 257.7 L930.5 257.7 L930.5 258.8 L931.5 258.8 L931.5 257.7 L932.5 257.7 L932.5 258.4 L933.5 258.4 L933.5 260.1 L934.5 260.1 L934.5 259.8 L935.5 259.8 L935.5 259.5 L936.5 259.5 L936.5 260.3 L937.5 260.3 L937.5 261.8 L938.5 261.8 L938.5 261.2 L939.5 261.2 L939.5 263.1 L940.5 263.1 L940.5 262.8 L941.5 262.8 L941.5 263.0 L942.5 263.0 L942.5 263.8 L943.5 263.8 L943.5 264.0 L944.5 264.0 L944.5 263.0 L945.5 263.0 L945.5 262.4 L946.5 262.4 L946.5 263.3 L947.5 263.3 L947.5 267.2 L948.5 267.2 L948.5 265.4 L949.5 265.4 L949.5 266.4 L950.5 266.4 L950.5 265.1 L951.5 265.1 L951.5 265.0 L952.5 265.0 L952.5 266.0 L953.5 266.0 L953.5 268.6 L954.5 268.6 L954.5 266.5 L955.5 266.5 L955.5 267.1 L956.5 267.1 L956.5 266.9 L957.5 266.9 L957.5 266.6 L958.5 266.6 L958.5 268.4 L959.5 268.4 L959.5 267.3 L960.5 267.3 L960.5 269.0 L961.5 269.0 L961.5 268.2 L962.5 268.2 L962.5 267.8 L963.5 267.8 L963.5 266.5 L964.5 266.5 L964.5 268.7 L965.5 268.7 L965.5 269.0 L966.5 269.0 L966.5 268.0 L967.5 268.0 L967.5 268.6 L968.5 268.6 L968.5 268.0 L969.5 268.0 L969.5 269.0 L970.5 269.0 L970.5 269.0 L971.5 269.0 L971.5 268.3 L972.5 268.3 L972.5 268.9 L973.5 268.9 L973.5 268.7 L974.5 268.7 L974.5 269.6 L975.5 269.6 L975.5 268.5 L976.5 268.5 L976.5 269.4 L977.5 269.4 L977.5 269.1 L978.5 269.1 L978.5 269.6 L979.5 269.6 L979.5 269.7 L980.5 269.7 L980.5 269.6 L981.5 269.6 L981.5 269.3 L982.5 269.3 L982.5 269.1 L983.5 269.1 L983.5 269.5 L984.5 269.5 L984.5 269.3 L985.5 269.3 L985.5 269.5 L986.5 269.5 L986.5 269.2 L987.5 269.2 L987.5 269.9 L988.5 269.9 L988.5 269.4 L989.5 269.4 L989.5 269.8 L990.5 269.8 L990.5 269.8 L991.5 269.8 L991.5 270.0 L992.5 270.0 L992.5 269.8 L993.5 269.8 L993.5 270.1 L994.5 270.1 L994.5 270.1 L995.5 270.1 L995.5 270.0 L996.5 270.0 L996.5 270.2 L997.5 270.2 L997.5 270.0 L998.5 270.0 L998.5 269.9 L999.5 269.9 L999.5 270.1 L1000.5 270.1 L1000.5 270.0 L1001.5 270.0 L1001.5 270.1 L1002.5 270.1 L1002.5 270.1 L1003.5 270.1 L1003.5 270.1 L1004.5 270.1 L1004.5 270.0 L1005.5 270.0 L1005.5 270.1 L1006.5 270.1 L1006.5 270.2 L1007.5 270.2 L1007.5 270.2 L1008.5 270.2 L1008.5 270.1 L1009.5 270.1 L1009.5 270.5 L1010.5 270.5 L1010.5 270.2 L1011.5 270.2 L1011.5 270.3 L1012.5 270.3 L1012.5 270.5 L1013.5 270.5 L1013.5 270.5 L1014.5 270.5 L1014.5 270.2 L1015.5 270.2 L1015.5 270.3 L1016.5 270.3 L1016.5 270.5 L1017.5 270.5 L1017.5 270.2 L1018.5 270.2 L1018.5 270.5 L1019.5 270.5 L1019.5 270.2 L1020.5 270.2 L1020.5 270.5 L1021.5 270.5 L1021.5 270.5 L1022.5 270.5 L1022.5 270.5 L1023.5 270.5 L1023.5 270.5 L1024.5 270.5 L1024.5 270.5 L1025.5 270.5 L1025.5 270.5 L1026.5 270.5 L1026.5 270.5 L1027.5 270.5 L1027.5 270.5 L1028.5 270.5 L1028.5 270.5 L1029.5 270.5 L1029.5 270.5 L1030.5 270.5 L1030.5 270.5 L1031.5 270.5 L1031.5 270.5 L1032.5 270.5 L1032.5 270.5 L1033.5 270.5 L1033.5 270.5 L1034.5 270.5 L1034.5 270.5 L1035.5 270.5 L1035.5 270.5 L1036.5 270.5 L1036.5 270.5 L1037.5 270.5 L1037.5 270.5 L1038.5 270.5 L1038.5 270.5 L1039.5 270.5 L1039.5 270.5 L1040.5 270.5 L1040.5 270.5 L1041.5 270.5 L1041.5 270.5 L1042.5 270.5 L1042.5 270.5 L1043.5 270.5 L1043.5 270.5 L1044.5 270.5 L1044.5 270.5 L1045.5 270.5 L1045.5 270.5 L1046.5 270.5 L1046.5 270.5 L1047.5 270.5 L1047.5 270.5 L1048.5 270.5 L1048.5 270.5 L1049.5 270.5 L1049.5 270.5 L1050.5 270.5 L1050.5 270.5 L1051.5 270.5 L1051.5 270.5 L1052.5 270.5 L1052.5 270.5 L1053.5 270.5 L1053.5 270.5 L1054.5 270.5 L1054.5 270.5 L1055.5 270.5 L1055.5 270.5 L1056.5 270.5 L1056.5 270.5 L1057.5 270.5 L1057.5 270.5 L1058.5 270.5 L1058.5 270.5 L1059.5 270.5 L1059.5 270.5 L1060.5 270.5 L1060.5 270.5 L1061.5 270.5 L1061.5 270.5 L1062.5 270.5 L1062.5 270.5 L1063.5 270.5 L1063.5 270.5 L1064.5 270.5 L1064.5 270.5 L1065.5 270.5 L1065.5 270.5 L1066.5 270.5 L1066.5 270.5 L1067.5 270.5 L1067.5 270.5 L1068.5 270.5 L1068.5 270.5 L1069.5 270.5 L1069.5 270.5 L1070.5 270.5 L1070.5 270.5 L1071.5 270.5 L1071.5 270.5 L1072.5 270.5 L1072.5 270.5 L1073.5 270.5 L1073.5 270.5 L1074.5 270.5 L1074.5 270.5 L1075.5 270.5 L1075.5 270.5 L1076.5 270.5 L1076.5 270.5 L1077.5 270.5 L1077.5 270.5 L1078.5 270.5 L1078.5 270.5 L1079.5 270.5 L1079.5 270.5 L1080.5 270.5 L1080.5 270.5 L1081.5 270.5 L1081.5 270.5 L1082.5 270.5 L1082.5 270.5 L1083.5 270.5 L1083.5 270.5 L1084.5 270.5 L1084.5 270.5 L1085.5 270.5 L1085.5 270.5 L1086.5 270.5 L1086.5 270.5 L1087.5 270.5 L1087.5 270.5 L1088.5 270.5 L1088.5 270.5 L1089.5 270.5 L1089.5 270.5 L1090.5 270.5 L1090.5 270.5 L1091.5 270.5 L1091.5 270.5 L1092.5 270.5 L1092.5 270.5 L1093.5 270.5 L1093.5 270.5 L1094.5 270.5 L1094.5 270.5 L1095.5 270.5 L1095.5 270.5 L1096.5 270.5 L1096.5 270.5 L1097.5 270.5 L1097.5 270.5 L1098.5 270.5 L1098.5 270.5 L1099.5 270.5 L1099.5 270.5 L1100.5 270.5 L1100.5 270.5 L1101.5 270.5 L1101.5 270.5 L1102.5 270.5 L1102.5 270.5 L1103.5 270.5 L1103.5 270.5 L1104.5 270.5 L1104.5 270.5 L1105.5 270.5 L1105.5 270.5 L1106.5 270.5 L1106.5 270.5 L1107.5 270.5 L1107.5 270.5 L1108.5 270.5 L1108.5 270.5 L1109.5 270.5 L1109.5 270.5 L1110.5 270.5 L1110.5 270.5 L1111.5 270.5 L1111.5 270.5 L1112.5 270.5 L1112.5 270.5 L1113.5 270.5 L1113.5 270.5 L1114.5 270.5 L1114.5 270.5 L1115.5 270.5 L1115.5 270.5 L1116.5 270.5 L1116.5 270.5 L1117.5 270.5 L1117.5 270.5 L1118.5 270.5 L1118.5 270.5 L1119.5 270.5 L1119.5 270.5 L1120.5 270.5 L1120.5 270.5 L1121.5 270.5 L1121.5 270.5 L1122.5 270.5 L1122.5 270.5 L1123.5 270.5 L1123.5 270.5 L1124.5 270.5 L1124.5 270.5 L1125.5 270.5 L1125.5 270.5 L1126.5 270.5 L1126.5 270.5 L1127.5 270.5 L1127.5 270.5 L1128.5 270.5 L1128.5 270.3 L1129.5 270.3 L1129.5 270.0 L1130.5 270.0 L1130.5 270.0 L1131.5 270.0 L1131.5 269.8 L1132.5 269.8 L1132.5 269.5 L1133.5 269.5 L1133.5 270.1 L1134.5 270.1 L1134.5 269.8 L1135.5 269.8 L1135.5 269.7 L1136.5 269.7 L1136.5 269.7 L1137.5 269.7 L1137.5 270.0 L1138.5 270.0 L1138.5 269.7 L1139.5 269.7 L1139.5 269.9 L1140.5 269.9 L1140.5 269.6 L1141.5 269.6 L1141.5 269.8 L1142.5 269.8 L1142.5 269.9 L1143.5 269.9 L1143.5 269.7 L1144.5 269.7 L1144.5 269.9 L1145.5 269.9 L1145.5 269.9 L1146.5 269.9 L1146.5 270.1 L1147.5 270.1 L1147.5 269.8 L1148.5 269.8 L1148.5 269.7 L1149.5 269.7 L1149.5 270.5 Z" fill="#c4c4f2"/>
<path d="M580.5 270.5 L580.5 269.8 L581.5 269.8 L581.5 269.7 L582.5 269.7 L582.5 269.8 L583.5 269.8 L583.5 269.9 L584.5 269.9 L584.5 269.7 L585.5 269.7 L585.5 269.7 L586.5 269.7 L586.5 270.0 L587.5 270.0 L587.5 269.9 L588.5 269.9 L588.5 270.1 L589.5 270.1 L589.5 270.0 L590.5 270.0 L590.5 270.0 L591.5 270.0 L591.5 269.9 L592.5 269.9 L592.5 270.0 L593.5 270.0 L593.5 269.9 L594.5 269.9 L594.5 269.9 L595.5 269.9 L595.5 269.8 L596.5 269.8 L596.5 269.9 L597.5 269.9 L597.5 270.1 L598.5 270.1 L598.5 270.3 L599.5 270.3 L599.5 270.2 L600.5 270.2 L600.5 270.3 L601.5 270.3 L601.5 270.5 L602.5 270.5 L602.5 270.5 L603.5 270.5 L603.5 270.5 L604.5 270.5 L604.5 270.5 L605.5 270.5 L605.5 270.5 L606.5 270.5 L606.5 270.5 L607.5 270.5 L607.5 270.5 L608.5 270.5 L608.5 270.5 L609.5 270.5 L609.5 270.5 L610.5 270.5 L610.5 270.5 L611.5 270.5 L611.5 270.5 L612.5 270.5 L612.5 270.5 L613.5 270.5 L613.5 270.5 L614.5 270.5 L614.5 270.5 L615.5 270.5 L615.5 270.5 L616.5 270.5 L616.5 270.5 L617.5 270.5 L617.5 270.5 L618.5 270.5 L618.5 270.5 L619.5 270.5 L619.5 270.5 L620.5 270.5 L620.5 270.5 L621.5 270.5 L621.5 270.5 L622.5 270.5 L622.5 270.5 L623.5 270.5 L623.5 270.5 L624.5 270.5 L624.5 270.5 L625.5 270.5 L625.5 270.5 L626.5 270.5 L626.5 270.5 L627.5 270.5 L627.5 270.5 L628.5 270.5 L628.5 270.5 L629.5 270.5 L629.5 270.5 L630.5 270.5 L630.5 270.5 L631.5 270.5 L631.5 270.5 L632.5 270.5 L632.5 270.5 L633.5 270.5 L633.5 270.5 L634.5 270.5 L634.5 270.5 L635.5 270.5 L635.5 270.5 L636.5 270.5 L636.5 270.5 L637.5 270.5 L637.5 270.5 L638.5 270.5 L638.5 270.5 L639.5 270.5 L639.5 270.5 L640.5 270.5 L640.5 270.5 L641.5 270.5 L641.5 270.5 L642.5 270.5 L642.5 270.5 L643.5 270.5 L643.5 270.5 L644.5 270.5 L644.5 270.5 L645.5 270.5 L645.5 270.5 L646.5 270.5 L646.5 270.5 L647.5 270.5 L647.5 270.5 L648.5 270.5 L648.5 270.5 L649.5 270.5 L649.5 270.5 L650.5 270.5 L650.5 270.5 L651.5 270.5 L651.5 270.5 L652.5 270.5 L652.5 270.5 L653.5 270.5 L653.5 270.5 L654.5 270.5 L654.5 270.5 L655.5 270.5 L655.5 270.5 L656.5 270.5 L656.5 270.5 L657.5 270.5 L657.5 270.5 L658.5 270.5 L658.5 270.5 L659.5 270.5 L659.5 270.5 L660.5 270.5 L660.5 270.5 L661.5 270.5 L661.5 270.5 L662.5 270.5 L662.5 270.5 L663.5 270.5 L663.5 270.5 L664.5 270.5 L664.5 270.5 L665.5 270.5 L665.5 270.5 L666.5 270.5 L666.5 270.5 L667.5 270.5 L667.5 270.5 L668.5 270.5 L668.5 270.5 L669.5 270.5 L669.5 270.5 L670.5 270.5 L670.5 270.5 L671.5 270.5 L671.5 270.5 L672.5 270.5 L672.5 270.5 L673.5 270.5 L673.5 270.5 L674.5 270.5 L674.5 270.5 L675.5 270.5 L675.5 270.5 L676.5 270.5 L676.5 270.5 L677.5 270.5 L677.5 270.5 L678.5 270.5 L678.5 270.5 L679.5 270.5 L679.5 270.5 L680.5 270.5 L680.5 270.5 L681.5 270.5 L681.5 270.5 L682.5 270.5 L682.5 270.5 L683.5 270.5 L683.5 270.5 L684.5 270.5 L684.5 270.5 L685.5 270.5 L685.5 270.5 L686.5 270.5 L686.5 270.5 L687.5 270.5 L687.5 270.5 L688.5 270.5 L688.5 270.5 L689.5 270.5 L689.5 270.5 L690.5 270.5 L690.5 270.5 L691.5 270.5 L691.5 270.5 L692.5 270.5 L692.5 270.5 L693.5 270.5 L693.5 270.5 L694.5 270.5 L694.5 270.5 L695.5 270.5 L695.5 270.5 L696.5 270.5 L696.5 270.5 L697.5 270.5 L697.5 270.5 L698.5 270.5 L698.5 270.5 L699.5 270.5 L699.5 270.5 L700.5 270.5 L700.5 270.5 L701.5 270.5 L701.5 270.5 L702.5 270.5 L702.5 270.5 L703.5 270.5 L703.5 270.5 L704.5 270.5 L704.5 270.5 L705.5 270.5 L705.5 270.5 L706.5 270.5 L706.5 270.5 L707.5 270.5 L707.5 270.5 L708.5 270.5 L708.5 270.5 L709.5 270.5 L709.5 270.5 L710.5 270.5 L710.5 270.3 L711.5 270.3 L711.5 270.5 L712.5 270.5 L712.5 270.2 L713.5 270.2 L713.5 270.2 L714.5 270.2 L714.5 270.5 L715.5 270.5 L715.5 270.2 L716.5 270.2 L716.5 270.2 L717.5 270.2 L717.5 270.5 L718.5 270.5 L718.5 270.1 L719.5 270.1 L719.5 270.2 L720.5 270.2 L720.5 270.2 L721.5 270.2 L721.5 270.2 L722.5 270.2 L722.5 270.0 L723.5 270.0 L723.5 269.9 L724.5 269.9 L724.5 270.0 L725.5 270.0 L725.5 269.9 L726.5 269.9 L726.5 270.0 L727.5 270.0 L727.5 269.9 L728.5 269.9 L728.5 270.0 L729.5 270.0 L729.5 269.9 L730.5 269.9 L730.5 270.0 L731.5 270.0 L731.5 269.8 L732.5 269.8 L732.5 269.7 L733.5 269.7 L733.5 269.7 L734.5 269.7 L734.5 269.5 L735.5 269.5 L735.5 269.2 L736.5 269.2 L736.5 270.1 L737.5 270.1 L737.5 269.6 L738.5 269.6 L738.5 269.7 L739.5 269.7 L739.5 269.6 L740.5 269.6 L740.5 269.8 L741.5 269.8 L741.5 269.4 L742.5 269.4 L742.5 269.4 L743.5 269.4 L743.5 269.5 L744.5 269.5 L744.5 269.3 L745.5 269.3 L745.5 269.4 L746.5 269.4 L746.5 269.9 L747.5 269.9 L747.5 268.7 L748.5 268.7 L748.5 269.1 L749.5 269.1 L749.5 269.3 L750.5 269.3 L750.5 268.8 L751.5 268.8 L751.5 269.1 L752.5 269.1 L752.5 269.6 L753.5 269.6 L753.5 268.4 L754.5 268.4 L754.5 269.3 L755.5 269.3 L755.5 268.7 L756.5 268.7 L756.5 268.6 L757.5 268.6 L757.5 267.8 L758.5 267.8 L758.5 267.9 L759.5 267.9 L759.5 268.2 L760.5 268.2 L760.5 268.6 L761.5 268.6 L761.5 268.5 L762.5 268.5 L762.5 267.6 L763.5 267.6 L763.5 267.1 L764.5 267.1 L764.5 267.7 L765.5 267.7 L765.5 268.2 L766.5 268.2 L766.5 267.2 L767.5 267.2 L767.5 268.0 L768.5 268.0 L768.5 267.9 L769.5 267.9 L769.5 267.9 L770.5 267.9 L770.5 267.1 L771.5 267.1 L771.5 267.2 L772.5 267.2 L772.5 266.7 L773.5 266.7 L773.5 266.4 L774.5 266.4 L774.5 266.7 L775.5 266.7 L775.5 268.4 L776.5 268.4 L776.5 267.9 L777.5 267.9 L777.5 266.6 L778.5 266.6 L778.5 266.3 L779.5 266.3 L779.5 264.9 L780.5 264.9 L780.5 265.9 L781.5 265.9 L781.5 265.9 L782.5 265.9 L782.5 264.7 L783.5 264.7 L783.5 264.6 L784.5 264.6 L784.5 264.9 L785.5 264.9 L785.5 264.3 L786.5 264.3 L786.5 265.5 L787.5 265.5 L787.5 265.2 L788.5 265.2 L788.5 263.2 L789.5 263.2 L789.5 264.6 L790.5 264.6 L790.5 262.9 L791.5 262.9 L791.5 262.9 L792.5 262.9 L792.5 262.7 L793.5 262.7 L793.5 262.2 L794.5 262.2 L794.5 262.2 L795.5 262.2 L795.5 263.8 L796.5 263.8 L796.5 262.9 L797.5 262.9 L797.5 261.8 L798.5 261.8 L798.5 260.3 L799.5 260.3 L799.5 262.0 L800.5 262.0 L800.5 260.4 L801.5 260.4 L801.5 260.2 L802.5 260.2 L802.5 258.7 L803.5 258.7 L803.5 260.3 L804.5 260.3 L804.5 258.7 L805.5 258.7 L805.5 256.5 L806.5 256.5 L806.5 257.9 L807.5 257.9 L807.5 255.7 L808.5 255.7 L808.5 254.2 L809.5 254.2 L809.5 254.6 L810.5 254.6 L810.5 252.9 L811.5 252.9 L811.5 251.1 L812.5 251.1 L812.5 249.9 L813.5 249.9 L813.5 249.5 L814.5 249.5 L814.5 248.7 L815.5 248.7 L815.5 248.4 L816.5 248.4 L816.5 249.1 L817.5 249.1 L817.5 247.4 L818.5 247.4 L818.5 246.6 L819.5 246.6 L819.5 245.3 L820.5 245.3 L820.5 246.6 L821.5 246.6 L821.5 242.4 L822.5 242.4 L822.5 242.4 L823.5 242.4 L823.5 240.8 L824.5 240.8 L824.5 239.0 L825.5 239.0 L825.5 238.7 L826.5 238.7 L826.5 238.3 L827.5 238.3 L827.5 237.9 L828.5 237.9 L828.5 234.9 L829.5 234.9 L829.5 232.7 L830.5 232.7 L830.5 232.1 L831.5 232.1 L831.5 229.3 L832.5 229.3 L832.5 228.9 L833.5 228.9 L833.5 226.8 L834.5 226.8 L834.5 225.2 L835.5 225.2 L835.5 224.7 L836.5 224.7 L836.5 217.9 L837.5 217.9 L837.5 218.1 L838.5 218.1 L838.5 215.7 L839.5 215.7 L839.5 213.3 L840.5 213.3 L840.5 206.9 L841.5 206.9 L841.5 204.0 L842.5 204.0 L842.5 198.9 L843.5 198.9 L843.5 196.0 L844.5 196.0 L844.5 189.0 L845.5 189.0 L845.5 184.7 L846.5 184.7 L846.5 176.8 L847.5 176.8 L847.5 171.1 L848.5 171.1 L848.5 165.1 L849.5 165.1 L849.5 157.7 L850.5 157.7 L850.5 151.2 L851.5 151.2 L851.5 141.6 L852.5 141.6 L852.5 134.0 L853.5 134.0 L853.5 123.5 L854.5 123.5 L854.5 122.3 L855.5 122.3 L855.5 119.7 L856.5 119.7 L856.5 105.2 L857.5 105.2 L857.5 102.1 L858.5 102.1 L858.5 86.6 L859.5 86.6 L859.5 85.6 L860.5 85.6 L860.5 90.8 L861.5 90.8 L861.5 76.0 L862.5 76.0 L862.5 71.9 L863.5 71.9 L863.5 84.1 L864.5 84.1 L864.5 71.7 L865.5 71.7 L865.5 66.5 L866.5 66.5 L866.5 75.3 L867.5 75.3 L867.5 73.9 L868.5 73.9 L868.5 74.8 L869.5 74.8 L869.5 71.5 L870.5 71.5 L870.5 74.1 L871.5 74.1 L871.5 66.0 L872.5 66.0 L872.5 83.2 L873.5 83.2 L873.5 80.9 L874.5 80.9 L874.5 91.7 L875.5 91.7 L875.5 97.1 L876.5 97.1 L876.5 110.2 L877.5 110.2 L877.5 122.7 L878.5 122.7 L878.5 125.5 L879.5 125.5 L879.5 125.5 L880.5 125.5 L880.5 128.9 L881.5 128.9 L881.5 139.1 L882.5 139.1 L882.5 148.3 L883.5 148.3 L883.5 160.4 L884.5 160.4 L884.5 161.0 L885.5 161.0 L885.5 168.5 L886.5 168.5 L886.5 177.4 L887.5 177.4 L887.5 182.1 L888.5 182.1 L888.5 187.8 L889.5 187.8 L889.5 190.5 L890.5 190.5 L890.5 194.7 L891.5 194.7 L891.5 199.9 L892.5 199.9 L892.5 203.1 L893.5 203.1 L893.5 205.5 L894.5 205.5 L894.5 211.6 L895.5 211.6 L895.5 215.6 L896.5 215.6 L896.5 220.0 L897.5 220.0 L897.5 222.5 L898.5 222.5 L898.5 223.0 L899.5 223.0 L899.5 223.8 L900.5 223.8 L900.5 229.4 L901.5 229.4 L901.5 229.8 L902.5 229.8 L902.5 230.9 L903.5 230.9 L903.5 233.9 L904.5 233.9 L904.5 235.8 L905.5 235.8 L905.5 238.6 L906.5 238.6 L906.5 238.5 L907.5 238.5 L907.5 242.7 L908.5 242.7 L908.5 242.2 L909.5 242.2 L909.5 243.3 L910.5 243.3 L910.5 245.3 L911.5 245.3 L911.5 248.0 L912.5 248.0 L912.5 249.0 L913.5 249.0 L913.5 248.2 L914.5 248.2 L914.5 249.2 L915.5 249.2 L915.5 249.2 L916.5 249.2 L916.5 250.8 L917.5 250.8 L917.5 250.8 L918.5 250.8 L918.5 252.1 L919.5 252.1 L919.5 252.6 L920.5 252.6 L920.5 253.5 L921.5 253.5 L921.5 254.5 L922.5 254.5 L922.5 255.3 L923.5 255.3 L923.5 254.9 L924.5 254.9 L924.5 256.2 L925.5 256.2 L925.5 258.3 L926.5 258.3 L926.5 256.6 L927.5 256.6 L927.5 258.8 L928.5 258.8 L928.5 258.5 L929.5 258.5 L929.5 259.3 L930.5 259.3 L930.5 260.6 L931.5 260.6 L931.5 259.3 L932.5 259.3 L932.5 260.1 L933.5 260.1 L933.5 261.9 L934.5 261.9 L934.5 261.2 L935.5 261.2 L935.5 262.0 L936.5 262.0 L936.5 261.7 L937.5 261.7 L937.5 263.0 L938.5 263.0 L938.5 263.6 L939.5 263.6 L939.5 264.1 L940.5 264.1 L940.5 264.2 L941.5 264.2 L941.5 264.1 L942.5 264.1 L942.5 265.1 L943.5 265.1 L943.5 265.0 L944.5 265.0 L944.5 264.8 L945.5 264.8 L945.5 263.6 L946.5 263.6 L946.5 265.2 L947.5 265.2 L947.5 267.9 L948.5 267.9 L948.5 266.7 L949.5 266.7 L949.5 266.9 L950.5 266.9 L950.5 266.5 L951.5 266.5 L951.5 265.8 L952.5 265.8 L952.5 266.6 L953.5 266.6 L953.5 269.1 L954.5 269.1 L954.5 267.3 L955.5 267.3 L955.5 267.6 L956.5 267.6 L956.5 267.5 L957.5 267.5 L957.5 267.2 L958.5 267.2 L958.5 268.7 L959.5 268.7 L959.5 267.8 L960.5 267.8 L960.5 269.2 L961.5 269.2 L961.5 268.5 L962.5 268.5 L962.5 268.4 L963.5 268.4 L963.5 267.7 L964.5 267.7 L964.5 269.0 L965.5 269.0 L965.5 269.4 L966.5 269.4 L966.5 268.5 L967.5 268.5 L967.5 269.1 L968.5 269.1 L968.5 268.4 L969.5 268.4 L969.5 269.3 L970.5 269.3 L970.5 269.4 L971.5 269.4 L971.5 268.8 L972.5 268.8 L972.5 269.1 L973.5 269.1 L973.5 269.0 L974.5 269.0 L974.5 269.7 L975.5 269.7 L975.5 268.9 L976.5 268.9 L976.5 269.6 L977.5 269.6 L977.5 269.3 L978.5 269.3 L978.5 269.7 L979.5 269.7 L979.5 269.9 L980.5 269.9 L980.5 269.7 L981.5 269.7 L981.5 269.6 L982.5 269.6 L982.5 269.4 L983.5 269.4 L983.5 269.7 L984.5 269.7 L984.5 269.7 L985.5 269.7 L985.5 269.7 L986.5 269.7 L986.5 269.4 L987.5 269.4 L987.5 270.0 L988.5 270.0 L988.5 269.8 L989.5 269.8 L989.5 270.0 L990.5 270.0 L990.5 270.0 L991.5 270.0 L991.5 270.1 L992.5 270.1 L992.5 269.9 L993.5 269.9 L993.5 270.2 L994.5 270.2 L994.5 270.2 L995.5 270.2 L995.5 270.1 L996.5 270.1 L996.5 270.2 L997.5 270.2 L997.5 270.0 L998.5 270.0 L998.5 270.0 L999.5 270.0 L999.5 270.2 L1000.5 270.2 L1000.5 270.1 L1001.5 270.1 L1001.5 270.2 L1002.5 270.2 L1002.5 270.2 L1003.5 270.2 L1003.5 270.2 L1004.5 270.2 L1004.5 270.1 L1005.5 270.1 L1005.5 270.2 L1006.5 270.2 L1006.5 270.3 L1007.5 270.3 L1007.5 270.3 L1008.5 270.3 L1008.5 270.2 L1009.5 270.2 L1009.5 270.5 L1010.5 270.5 L1010.5 270.3 L1011.5 270.3 L1011.5 270.3 L1012.5 270.3 L1012.5 270.5 L1013.5 270.5 L1013.5 270.5 L1014.5 270.5 L1014.5 270.2 L1015.5 270.2 L1015.5 270.3 L1016.5 270.3 L1016.5 270.5 L1017.5 270.5 L1017.5 270.3 L1018.5 270.3 L1018.5 270.5 L1019.5 270.5 L1019.5 270.2 L1020.5 270.2 L1020.5 270.5 L1021.5 270.5 L1021.5 270.5 L1022.5 270.5 L1022.5 270.5 L1023.5 270.5 L1023.5 270.5 L1024.5 270.5 L1024.5 270.5 L1025.5 270.5 L1025.5 270.5 L1026.5 270.5 L1026.5 270.5 L1027.5 270.5 L1027.5 270.5 L1028.5 270.5 L1028.5 270.5 L1029.5 270.5 L1029.5 270.5 L1030.5 270.5 L1030.5 270.5 L1031.5 270.5 L1031.5 270.5 L1032.5 270.5 L1032.5 270.5 L1033.5 270.5 L1033.5 270.5 L1034.5 270.5 L1034.5 270.5 L1035.5 270.5 L1035.5 270.5 L1036.5 270.5 L1036.5 270.5 L1037.5 270.5 L1037.5 270.5 L1038.5 270.5 L1038.5 270.5 L1039.5 270.5 L1039.5 270.5 L1040.5 270.5 L1040.5 270.5 L1041.5 270.5 L1041.5 270.5 L1042.5 270.5 L1042.5 270.5 L1043.5 270.5 L1043.5 270.5 L1044.5 270.5 L1044.5 270.5 L1045.5 270.5 L1045.5 270.5 L1046.5 270.5 L1046.5 270.5 L1047.5 270.5 L1047.5 270.5 L1048.5 270.5 L1048.5 270.5 L1049.5 270.5 L1049.5 270.5 L1050.5 270.5 L1050.5 270.5 L1051.5 270.5 L1051.5 270.5 L1052.5 270.5 L1052.5 270.5 L1053.5 270.5 L1053.5 270.5 L1054.5 270.5 L1054.5 270.5 L1055.5 270.5 L1055.5 270.5 L1056.5 270.5 L1056.5 270.5 L1057.5 270.5 L1057.5 270.5 L1058.5 270.5 L1058.5 270.5 L1059.5 270.5 L1059.5 270.5 L1060.5 270.5 L1060.5 270.5 L1061.5 270.5 L1061.5 270.5 L1062.5 270.5 L1062.5 270.5 L1063.5 270.5 L1063.5 270.5 L1064.5 270.5 L1064.5 270.5 L1065.5 270.5 L1065.5 270.5 L1066.5 270.5 L1066.5 270.5 L1067.5 270.5 L1067.5 270.5 L1068.5 270.5 L1068.5 270.5 L1069.5 270.5 L1069.5 270.5 L1070.5 270.5 L1070.5 270.5 L1071.5 270.5 L1071.5 270.5 L1072.5 270.5 L1072.5 270.5 L1073.5 270.5 L1073.5 270.5 L1074.5 270.5 L1074.5 270.5 L1075.5 270.5 L1075.5 270.5 L1076.5 270.5 L1076.5 270.5 L1077.5 270.5 L1077.5 270.5 L1078.5 270.5 L1078.5 270.5 L1079.5 270.5 L1079.5 270.5 L1080.5 270.5 L1080.5 270.5 L1081.5 270.5 L1081.5 270.5 L1082.5 270.5 L1082.5 270.5 L1083.5 270.5 L1083.5 270.5 L1084.5 270.5 L1084.5 270.5 L1085.5 270.5 L1085.5 270.5 L1086.5 270.5 L1086.5 270.5 L1087.5 270.5 L1087.5 270.5 L1088.5 270.5 L1088.5 270.5 L1089.5 270.5 L1089.5 270.5 L1090.5 270.5 L1090.5 270.5 L1091.5 270.5 L1091.5 270.5 L1092.5 270.5 L1092.5 270.5 L1093.5 270.5 L1093.5 270.5 L1094.5 270.5 L1094.5 270.5 L1095.5 270.5 L1095.5 270.5 L1096.5 270.5 L1096.5 270.5 L1097.5 270.5 L1097.5 270.5 L1098.5 270.5 L1098.5 270.5 L1099.5 270.5 L1099.5 270.5 L1100.5 270.5 L1100.5 270.5 L1101.5 270.5 L1101.5 270.5 L1102.5 270.5 L1102.5 270.5 L1103.5 270.5 L1103.5 270.5 L1104.5 270.5 L1104.5 270.5 L1105.5 270.5 L1105.5 270.5 L1106.5 270.5 L1106.5 270.5 L1107.5 270.5 L1107.5 270.5 L1108.5 270.5 L1108.5 270.5 L1109.5 270.5 L1109.5 270.5 L1110.5 270.5 L1110.5 270.5 L1111.5 270.5 L1111.5 270.5 L1112.5 270.5 L1112.5 270.5 L1113.5 270.5 L1113.5 270.5 L1114.5 270.5 L1114.5 270.5 L1115.5 270.5 L1115.5 270.5 L1116.5 270.5 L1116.5 270.5 L1117.5 270.5 L1117.5 270.5 L1118.5 270.5 L1118.5 270.5 L1119.5 270.5 L1119.5 270.5 L1120.5 270.5 L1120.5 270.5 L1121.5 270.5 L1121.5 270.5 L1122.5 270.5 L1122.5 270.5 L1123.5 270.5 L1123.5 270.5 L1124.5 270.5 L1124.5 270.5 L1125.5 270.5 L1125.5 270.5 L1126.5 270.5 L1126.5 270.5 L1127.5 270.5 L1127.5 270.5 L1128.5 270.5 L1128.5 270.3 L1129.5 270.3 L1129.5 270.0 L1130.5 270.0 L1130.5 270.1 L1131.5 270.1 L1131.5 269.9 L1132.5 269.9 L1132.5 269.8 L1133.5 269.8 L1133.5 270.2 L1134.5 270.2 L1134.5 270.0 L1135.5 270.0 L1135.5 269.9 L1136.5 269.9 L1136.5 269.9 L1137.5 269.9 L1137.5 270.1 L1138.5 270.1 L1138.5 269.9 L1139.5 269.9 L1139.5 270.0 L1140.5 270.0 L1140.5 269.8 L1141.5 269.8 L1141.5 269.9 L1142.5 269.9 L1142.5 270.0 L1143.5 270.0 L1143.5 269.9 L1144.5 269.9 L1144.5 270.0 L1145.5 270.0 L1145.5 270.0 L1146.5 270.0 L1146.5 270.1 L1147.5 270.1 L1147.5 269.9 L1148.5 269.9 L1148.5 269.8 L1149.5 269.8 L1149.5 270.5 Z" fill="#6666ff"/>
<clipPath id="hc2"><path d="M580.5 270.5 L580.5 269.8 L581.5 269.8 L581.5 269.7 L582.5 269.7 L582.5 269.8 L583.5 269.8 L583.5 269.9 L584.5 269.9 L584.5 269.7 L585.5 269.7 L585.5 269.7 L586.5 269.7 L586.5 270.0 L587.5 270.0 L587.5 269.9 L588.5 269.9 L588.5 270.1 L589.5 270.1 L589.5 270.0 L590.5 270.0 L590.5 270.0 L591.5 270.0 L591.5 269.9 L592.5 269.9 L592.5 270.0 L593.5 270.0 L593.5 269.9 L594.5 269.9 L594.5 269.9 L595.5 269.9 L595.5 269.8 L596.5 269.8 L596.5 269.9 L597.5 269.9 L597.5 270.1 L598.5 270.1 L598.5 270.3 L599.5 270.3 L599.5 270.2 L600.5 270.2 L600.5 270.3 L601.5 270.3 L601.5 270.5 L602.5 270.5 L602.5 270.5 L603.5 270.5 L603.5 270.5 L604.5 270.5 L604.5 270.5 L605.5 270.5 L605.5 270.5 L606.5 270.5 L606.5 270.5 L607.5 270.5 L607.5 270.5 L608.5 270.5 L608.5 270.5 L609.5 270.5 L609.5 270.5 L610.5 270.5 L610.5 270.5 L611.5 270.5 L611.5 270.5 L612.5 270.5 L612.5 270.5 L613.5 270.5 L613.5 270.5 L614.5 270.5 L614.5 270.5 L615.5 270.5 L615.5 270.5 L616.5 270.5 L616.5 270.5 L617.5 270.5 L617.5 270.5 L618.5 270.5 L618.5 270.5 L619.5 270.5 L619.5 270.5 L620.5 270.5 L620.5 270.5 L621.5 270.5 L621.5 270.5 L622.5 270.5 L622.5 270.5 L623.5 270.5 L623.5 270.5 L624.5 270.5 L624.5 270.5 L625.5 270.5 L625.5 270.5 L626.5 270.5 L626.5 270.5 L627.5 270.5 L627.5 270.5 L628.5 270.5 L628.5 270.5 L629.5 270.5 L629.5 270.5 L630.5 270.5 L630.5 270.5 L631.5 270.5 L631.5 270.5 L632.5 270.5 L632.5 270.5 L633.5 270.5 L633.5 270.5 L634.5 270.5 L634.5 270.5 L635.5 270.5 L635.5 270.5 L636.5 270.5 L636.5 270.5 L637.5 270.5 L637.5 270.5 L638.5 270.5 L638.5 270.5 L639.5 270.5 L639.5 270.5 L640.5 270.5 L640.5 270.5 L641.5 270.5 L641.5 270.5 L642.5 270.5 L642.5 270.5 L643.5 270.5 L643.5 270.5 L644.5 270.5 L644.5 270.5 L645.5 270.5 L645.5 270.5 L646.5 270.5 L646.5 270.5 L647.5 270.5 L647.5 270.5 L648.5 270.5 L648.5 270.5 L649.5 270.5 L649.5 270.5 L650.5 270.5 L650.5 270.5 L651.5 270.5 L651.5 270.5 L652.5 270.5 L652.5 270.5 L653.5 270.5 L653.5 270.5 L654.5 270.5 L654.5 270.5 L655.5 270.5 L655.5 270.5 L656.5 270.5 L656.5 270.5 L657.5 270.5 L657.5 270.5 L658.5 270.5 L658.5 270.5 L659.5 270.5 L659.5 270.5 L660.5 270.5 L660.5 270.5 L661.5 270.5 L661.5 270.5 L662.5 270.5 L662.5 270.5 L663.5 270.5 L663.5 270.5 L664.5 270.5 L664.5 270.5 L665.5 270.5 L665.5 270.5 L666.5 270.5 L666.5 270.5 L667.5 270.5 L667.5 270.5 L668.5 270.5 L668.5 270.5 L669.5 270.5 L669.5 270.5 L670.5 270.5 L670.5 270.5 L671.5 270.5 L671.5 270.5 L672.5 270.5 L672.5 270.5 L673.5 270.5 L673.5 270.5 L674.5 270.5 L674.5 270.5 L675.5 270.5 L675.5 270.5 L676.5 270.5 L676.5 270.5 L677.5 270.5 L677.5 270.5 L678.5 270.5 L678.5 270.5 L679.5 270.5 L679.5 270.5 L680.5 270.5 L680.5 270.5 L681.5 270.5 L681.5 270.5 L682.5 270.5 L682.5 270.5 L683.5 270.5 L683.5 270.5 L684.5 270.5 L684.5 270.5 L685.5 270.5 L685.5 270.5 L686.5 270.5 L686.5 270.5 L687.5 270.5 L687.5 270.5 L688.5 270.5 L688.5 270.5 L689.5 270.5 L689.5 270.5 L690.5 270.5 L690.5 270.5 L691.5 270.5 L691.5 270.5 L692.5 270.5 L692.5 270.5 L693.5 270.5 L693.5 270.5 L694.5 270.5 L694.5 270.5 L695.5 270.5 L695.5 270.5 L696.5 270.5 L696.5 270.5 L697.5 270.5 L697.5 270.5 L698.5 270.5 L698.5 270.5 L699.5 270.5 L699.5 270.5 L700.5 270.5 L700.5 270.5 L701.5 270.5 L701.5 270.5 L702.5 270.5 L702.5 270.5 L703.5 270.5 L703.5 270.5 L704.5 270.5 L704.5 270.5 L705.5 270.5 L705.5 270.5 L706.5 270.5 L706.5 270.5 L707.5 270.5 L707.5 270.5 L708.5 270.5 L708.5 270.5 L709.5 270.5 L709.5 270.5 L710.5 270.5 L710.5 270.3 L711.5 270.3 L711.5 270.5 L712.5 270.5 L712.5 270.2 L713.5 270.2 L713.5 270.2 L714.5 270.2 L714.5 270.5 L715.5 270.5 L715.5 270.2 L716.5 270.2 L716.5 270.2 L717.5 270.2 L717.5 270.5 L718.5 270.5 L718.5 270.1 L719.5 270.1 L719.5 270.2 L720.5 270.2 L720.5 270.2 L721.5 270.2 L721.5 270.2 L722.5 270.2 L722.5 270.0 L723.5 270.0 L723.5 269.9 L724.5 269.9 L724.5 270.0 L725.5 270.0 L725.5 269.9 L726.5 269.9 L726.5 270.0 L727.5 270.0 L727.5 269.9 L728.5 269.9 L728.5 270.0 L729.5 270.0 L729.5 269.9 L730.5 269.9 L730.5 270.0 L731.5 270.0 L731.5 269.8 L732.5 269.8 L732.5 269.7 L733.5 269.7 L733.5 269.7 L734.5 269.7 L734.5 269.5 L735.5 269.5 L735.5 269.2 L736.5 269.2 L736.5 270.1 L737.5 270.1 L737.5 269.6 L738.5 269.6 L738.5 269.7 L739.5 269.7 L739.5 269.6 L740.5 269.6 L740.5 269.8 L741.5 269.8 L741.5 269.4 L742.5 269.4 L742.5 269.4 L743.5 269.4 L743.5 269.5 L744.5 269.5 L744.5 269.3 L745.5 269.3 L745.5 269.4 L746.5 269.4 L746.5 269.9 L747.5 269.9 L747.5 268.7 L748.5 268.7 L748.5 269.1 L749.5 269.1 L749.5 269.3 L750.5 269.3 L750.5 268.8 L751.5 268.8 L751.5 269.1 L752.5 269.1 L752.5 269.6 L753.5 269.6 L753.5 268.4 L754.5 268.4 L754.5 269.3 L755.5 269.3 L755.5 268.7 L756.5 268.7 L756.5 268.6 L757.5 268.6 L757.5 267.8 L758.5 267.8 L758.5 267.9 L759.5 267.9 L759.5 268.2 L760.5 268.2 L760.5 268.6 L761.5 268.6 L761.5 268.5 L762.5 268.5 L762.5 267.6 L763.5 267.6 L763.5 267.1 L764.5 267.1 L764.5 267.7 L765.5 267.7 L765.5 268.2 L766.5 268.2 L766.5 267.2 L767.5 267.2 L767.5 268.0 L768.5 268.0 L768.5 267.9 L769.5 267.9 L769.5 267.9 L770.5 267.9 L770.5 267.1 L771.5 267.1 L771.5 267.2 L772.5 267.2 L772.5 266.7 L773.5 266.7 L773.5 266.4 L774.5 266.4 L774.5 266.7 L775.5 266.7 L775.5 268.4 L776.5 268.4 L776.5 267.9 L777.5 267.9 L777.5 266.6 L778.5 266.6 L778.5 266.3 L779.5 266.3 L779.5 264.9 L780.5 264.9 L780.5 265.9 L781.5 265.9 L781.5 265.9 L782.5 265.9 L782.5 264.7 L783.5 264.7 L783.5 264.6 L784.5 264.6 L784.5 264.9 L785.5 264.9 L785.5 264.3 L786.5 264.3 L786.5 265.5 L787.5 265.5 L787.5 265.2 L788.5 265.2 L788.5 263.2 L789.5 263.2 L789.5 264.6 L790.5 264.6 L790.5 262.9 L791.5 262.9 L791.5 262.9 L792.5 262.9 L792.5 262.7 L793.5 262.7 L793.5 262.2 L794.5 262.2 L794.5 262.2 L795.5 262.2 L795.5 263.8 L796.5 263.8 L796.5 262.9 L797.5 262.9 L797.5 261.8 L798.5 261.8 L798.5 260.3 L799.5 260.3 L799.5 262.0 L800.5 262.0 L800.5 260.4 L801.5 260.4 L801.5 260.2 L802.5 260.2 L802.5 258.7 L803.5 258.7 L803.5 260.3 L804.5 260.3 L804.5 258.7 L805.5 258.7 L805.5 256.5 L806.5 256.5 L806.5 257.9 L807.5 257.9 L807.5 255.7 L808.5 255.7 L808.5 254.2 L809.5 254.2 L809.5 254.6 L810.5 254.6 L810.5 252.9 L811.5 252.9 L811.5 251.1 L812.5 251.1 L812.5 249.9 L813.5 249.9 L813.5 249.5 L814.5 249.5 L814.5 248.7 L815.5 248.7 L815.5 248.4 L816.5 248.4 L816.5 249.1 L817.5 249.1 L817.5 247.4 L818.5 247.4 L818.5 246.6 L819.5 246.6 L819.5 245.3 L820.5 245.3 L820.5 246.6 L821.5 246.6 L821.5 242.4 L822.5 242.4 L822.5 242.4 L823.5 242.4 L823.5 240.8 L824.5 240.8 L824.5 239.0 L825.5 239.0 L825.5 238.7 L826.5 238.7 L826.5 238.3 L827.5 238.3 L827.5 237.9 L828.5 237.9 L828.5 234.9 L829.5 234.9 L829.5 232.7 L830.5 232.7 L830.5 232.1 L831.5 232.1 L831.5 229.3 L832.5 229.3 L832.5 228.9 L833.5 228.9 L833.5 226.8 L834.5 226.8 L834.5 225.2 L835.5 225.2 L835.5 224.7 L836.5 224.7 L836.5 217.9 L837.5 217.9 L837.5 218.1 L838.5 218.1 L838.5 215.7 L839.5 215.7 L839.5 213.3 L840.5 213.3 L840.5 206.9 L841.5 206.9 L841.5 204.0 L842.5 204.0 L842.5 198.9 L843.5 198.9 L843.5 196.0 L844.5 196.0 L844.5 189.0 L845.5 189.0 L845.5 184.7 L846.5 184.7 L846.5 176.8 L847.5 176.8 L847.5 171.1 L848.5 171.1 L848.5 165.1 L849.5 165.1 L849.5 157.7 L850.5 157.7 L850.5 151.2 L851.5 151.2 L851.5 141.6 L852.5 141.6 L852.5 134.0 L853.5 134.0 L853.5 123.5 L854.5 123.5 L854.5 122.3 L855.5 122.3 L855.5 119.7 L856.5 119.7 L856.5 105.2 L857.5 105.2 L857.5 102.1 L858.5 102.1 L858.5 86.6 L859.5 86.6 L859.5 85.6 L860.5 85.6 L860.5 90.8 L861.5 90.8 L861.5 76.0 L862.5 76.0 L862.5 71.9 L863.5 71.9 L863.5 84.1 L864.5 84.1 L864.5 71.7 L865.5 71.7 L865.5 66.5 L866.5 66.5 L866.5 75.3 L867.5 75.3 L867.5 73.9 L868.5 73.9 L868.5 74.8 L869.5 74.8 L869.5 71.5 L870.5 71.5 L870.5 74.1 L871.5 74.1 L871.5 66.0 L872.5 66.0 L872.5 83.2 L873.5 83.2 L873.5 80.9 L874.5 80.9 L874.5 91.7 L875.5 91.7 L875.5 97.1 L876.5 97.1 L876.5 110.2 L877.5 110.2 L877.5 122.7 L878.5 122.7 L878.5 125.5 L879.5 125.5 L879.5 125.5 L880.5 125.5 L880.5 128.9 L881.5 128.9 L881.5 139.1 L882.5 139.1 L882.5 148.3 L883.5 148.3 L883.5 160.4 L884.5 160.4 L884.5 161.0 L885.5 161.0 L885.5 168.5 L886.5 168.5 L886.5 177.4 L887.5 177.4 L887.5 182.1 L888.5 182.1 L888.5 187.8 L889.5 187.8 L889.5 190.5 L890.5 190.5 L890.5 194.7 L891.5 194.7 L891.5 199.9 L892.5 199.9 L892.5 203.1 L893.5 203.1 L893.5 205.5 L894.5 205.5 L894.5 211.6 L895.5 211.6 L895.5 215.6 L896.5 215.6 L896.5 220.0 L897.5 220.0 L897.5 222.5 L898.5 222.5 L898.5 223.0 L899.5 223.0 L899.5 223.8 L900.5 223.8 L900.5 229.4 L901.5 229.4 L901.5 229.8 L902.5 229.8 L902.5 230.9 L903.5 230.9 L903.5 233.9 L904.5 233.9 L904.5 235.8 L905.5 235.8 L905.5 238.6 L906.5 238.6 L906.5 238.5 L907.5 238.5 L907.5 242.7 L908.5 242.7 L908.5 242.2 L909.5 242.2 L909.5 243.3 L910.5 243.3 L910.5 245.3 L911.5 245.3 L911.5 248.0 L912.5 248.0 L912.5 249.0 L913.5 249.0 L913.5 248.2 L914.5 248.2 L914.5 249.2 L915.5 249.2 L915.5 249.2 L916.5 249.2 L916.5 250.8 L917.5 250.8 L917.5 250.8 L918.5 250.8 L918.5 252.1 L919.5 252.1 L919.5 252.6 L920.5 252.6 L920.5 253.5 L921.5 253.5 L921.5 254.5 L922.5 254.5 L922.5 255.3 L923.5 255.3 L923.5 254.9 L924.5 254.9 L924.5 256.2 L925.5 256.2 L925.5 258.3 L926.5 258.3 L926.5 256.6 L927.5 256.6 L927.5 258.8 L928.5 258.8 L928.5 258.5 L929.5 258.5 L929.5 259.3 L930.5 259.3 L930.5 260.6 L931.5 260.6 L931.5 259.3 L932.5 259.3 L932.5 260.1 L933.5 260.1 L933.5 261.9 L934.5 261.9 L934.5 261.2 L935.5 261.2 L935.5 262.0 L936.5 262.0 L936.5 261.7 L937.5 261.7 L937.5 263.0 L938.5 263.0 L938.5 263.6 L939.5 263.6 L939.5 264.1 L940.5 264.1 L940.5 264.2 L941.5 264.2 L941.5 264.1 L942.5 264.1 L942.5 265.1 L943.5 265.1 L943.5 265.0 L944.5 265.0 L944.5 264.8 L945.5 264.8 L945.5 263.6 L946.5 263.6 L946.5 265.2 L947.5 265.2 L947.5 267.9 L948.5 267.9 L948.5 266.7 L949.5 266.7 L949.5 266.9 L950.5 266.9 L950.5 266.5 L951.5 266.5 L951.5 265.8 L952.5 265.8 L952.5 266.6 L953.5 266.6 L953.5 269.1 L954.5 269.1 L954.5 267.3 L955.5 267.3 L955.5 267.6 L956.5 267.6 L956.5 267.5 L957.5 267.5 L957.5 267.2 L958.5 267.2 L958.5 268.7 L959.5 268.7 L959.5 267.8 L960.5 267.8 L960.5 269.2 L961.5 269.2 L961.5 268.5 L962.5 268.5 L962.5 268.4 L963.5 268.4 L963.5 267.7 L964.5 267.7 L964.5 269.0 L965.5 269.0 L965.5 269.4 L966.5 269.4 L966.5 268.5 L967.5 268.5 L967.5 269.1 L968.5 269.1 L968.5 268.4 L969.5 268.4 L969.5 269.3 L970.5 269.3 L970.5 269.4 L971.5 269.4 L971.5 268.8 L972.5 268.8 L972.5 269.1 L973.5 269.1 L973.5 269.0 L974.5 269.0 L974.5 269.7 L975.5 269.7 L975.5 268.9 L976.5 268.9 L976.5 269.6 L977.5 269.6 L977.5 269.3 L978.5 269.3 L978.5 269.7 L979.5 269.7 L979.5 269.9 L980.5 269.9 L980.5 269.7 L981.5 269.7 L981.5 269.6 L982.5 269.6 L982.5 269.4 L983.5 269.4 L983.5 269.7 L984.5 269.7 L984.5 269.7 L985.5 269.7 L985.5 269.7 L986.5 269.7 L986.5 269.4 L987.5 269.4 L987.5 270.0 L988.5 270.0 L988.5 269.8 L989.5 269.8 L989.5 270.0 L990.5 270.0 L990.5 270.0 L991.5 270.0 L991.5 270.1 L992.5 270.1 L992.5 269.9 L993.5 269.9 L993.5 270.2 L994.5 270.2 L994.5 270.2 L995.5 270.2 L995.5 270.1 L996.5 270.1 L996.5 270.2 L997.5 270.2 L997.5 270.0 L998.5 270.0 L998.5 270.0 L999.5 270.0 L999.5 270.2 L1000.5 270.2 L1000.5 270.1 L1001.5 270.1 L1001.5 270.2 L1002.5 270.2 L1002.5 270.2 L1003.5 270.2 L1003.5 270.2 L1004.5 270.2 L1004.5 270.1 L1005.5 270.1 L1005.5 270.2 L1006.5 270.2 L1006.5 270.3 L1007.5 270.3 L1007.5 270.3 L1008.5 270.3 L1008.5 270.2 L1009.5 270.2 L1009.5 270.5 L1010.5 270.5 L1010.5 270.3 L1011.5 270.3 L1011.5 270.3 L1012.5 270.3 L1012.5 270.5 L1013.5 270.5 L1013.5 270.5 L1014.5 270.5 L1014.5 270.2 L1015.5 270.2 L1015.5 270.3 L1016.5 270.3 L1016.5 270.5 L1017.5 270.5 L1017.5 270.3 L1018.5 270.3 L1018.5 270.5 L1019.5 270.5 L1019.5 270.2 L1020.5 270.2 L1020.5 270.5 L1021.5 270.5 L1021.5 270.5 L1022.5 270.5 L1022.5 270.5 L1023.5 270.5 L1023.5 270.5 L1024.5 270.5 L1024.5 270.5 L1025.5 270.5 L1025.5 270.5 L1026.5 270.5 L1026.5 270.5 L1027.5 270.5 L1027.5 270.5 L1028.5 270.5 L1028.5 270.5 L1029.5 270.5 L1029.5 270.5 L1030.5 270.5 L1030.5 270.5 L1031.5 270.5 L1031.5 270.5 L1032.5 270.5 L1032.5 270.5 L1033.5 270.5 L1033.5 270.5 L1034.5 270.5 L1034.5 270.5 L1035.5 270.5 L1035.5 270.5 L1036.5 270.5 L1036.5 270.5 L1037.5 270.5 L1037.5 270.5 L1038.5 270.5 L1038.5 270.5 L1039.5 270.5 L1039.5 270.5 L1040.5 270.5 L1040.5 270.5 L1041.5 270.5 L1041.5 270.5 L1042.5 270.5 L1042.5 270.5 L1043.5 270.5 L1043.5 270.5 L1044.5 270.5 L1044.5 270.5 L1045.5 270.5 L1045.5 270.5 L1046.5 270.5 L1046.5 270.5 L1047.5 270.5 L1047.5 270.5 L1048.5 270.5 L1048.5 270.5 L1049.5 270.5 L1049.5 270.5 L1050.5 270.5 L1050.5 270.5 L1051.5 270.5 L1051.5 270.5 L1052.5 270.5 L1052.5 270.5 L1053.5 270.5 L1053.5 270.5 L1054.5 270.5 L1054.5 270.5 L1055.5 270.5 L1055.5 270.5 L1056.5 270.5 L1056.5 270.5 L1057.5 270.5 L1057.5 270.5 L1058.5 270.5 L1058.5 270.5 L1059.5 270.5 L1059.5 270.5 L1060.5 270.5 L1060.5 270.5 L1061.5 270.5 L1061.5 270.5 L1062.5 270.5 L1062.5 270.5 L1063.5 270.5 L1063.5 270.5 L1064.5 270.5 L1064.5 270.5 L1065.5 270.5 L1065.5 270.5 L1066.5 270.5 L1066.5 270.5 L1067.5 270.5 L1067.5 270.5 L1068.5 270.5 L1068.5 270.5 L1069.5 270.5 L1069.5 270.5 L1070.5 270.5 L1070.5 270.5 L1071.5 270.5 L1071.5 270.5 L1072.5 270.5 L1072.5 270.5 L1073.5 270.5 L1073.5 270.5 L1074.5 270.5 L1074.5 270.5 L1075.5 270.5 L1075.5 270.5 L1076.5 270.5 L1076.5 270.5 L1077.5 270.5 L1077.5 270.5 L1078.5 270.5 L1078.5 270.5 L1079.5 270.5 L1079.5 270.5 L1080.5 270.5 L1080.5 270.5 L1081.5 270.5 L1081.5 270.5 L1082.5 270.5 L1082.5 270.5 L1083.5 270.5 L1083.5 270.5 L1084.5 270.5 L1084.5 270.5 L1085.5 270.5 L1085.5 270.5 L1086.5 270.5 L1086.5 270.5 L1087.5 270.5 L1087.5 270.5 L1088.5 270.5 L1088.5 270.5 L1089.5 270.5 L1089.5 270.5 L1090.5 270.5 L1090.5 270.5 L1091.5 270.5 L1091.5 270.5 L1092.5 270.5 L1092.5 270.5 L1093.5 270.5 L1093.5 270.5 L1094.5 270.5 L1094.5 270.5 L1095.5 270.5 L1095.5 270.5 L1096.5 270.5 L1096.5 270.5 L1097.5 270.5 L1097.5 270.5 L1098.5 270.5 L1098.5 270.5 L1099.5 270.5 L1099.5 270.5 L1100.5 270.5 L1100.5 270.5 L1101.5 270.5 L1101.5 270.5 L1102.5 270.5 L1102.5 270.5 L1103.5 270.5 L1103.5 270.5 L1104.5 270.5 L1104.5 270.5 L1105.5 270.5 L1105.5 270.5 L1106.5 270.5 L1106.5 270.5 L1107.5 270.5 L1107.5 270.5 L1108.5 270.5 L1108.5 270.5 L1109.5 270.5 L1109.5 270.5 L1110.5 270.5 L1110.5 270.5 L1111.5 270.5 L1111.5 270.5 L1112.5 270.5 L1112.5 270.5 L1113.5 270.5 L1113.5 270.5 L1114.5 270.5 L1114.5 270.5 L1115.5 270.5 L1115.5 270.5 L1116.5 270.5 L1116.5 270.5 L1117.5 270.5 L1117.5 270.5 L1118.5 270.5 L1118.5 270.5 L1119.5 270.5 L1119.5 270.5 L1120.5 270.5 L1120.5 270.5 L1121.5 270.5 L1121.5 270.5 L1122.5 270.5 L1122.5 270.5 L1123.5 270.5 L1123.5 270.5 L1124.5 270.5 L1124.5 270.5 L1125.5 270.5 L1125.5 270.5 L1126.5 270.5 L1126.5 270.5 L1127.5 270.5 L1127.5 270.5 L1128.5 270.5 L1128.5 270.3 L1129.5 270.3 L1129.5 270.0 L1130.5 270.0 L1130.5 270.1 L1131.5 270.1 L1131.5 269.9 L1132.5 269.9 L1132.5 269.8 L1133.5 269.8 L1133.5 270.2 L1134.5 270.2 L1134.5 270.0 L1135.5 270.0 L1135.5 269.9 L1136.5 269.9 L1136.5 269.9 L1137.5 269.9 L1137.5 270.1 L1138.5 270.1 L1138.5 269.9 L1139.5 269.9 L1139.5 270.0 L1140.5 270.0 L1140.5 269.8 L1141.5 269.8 L1141.5 269.9 L1142.5 269.9 L1142.5 270.0 L1143.5 270.0 L1143.5 269.9 L1144.5 269.9 L1144.5 270.0 L1145.5 270.0 L1145.5 270.0 L1146.5 270.0 L1146.5 270.1 L1147.5 270.1 L1147.5 269.9 L1148.5 269.9 L1148.5 269.8 L1149.5 269.8 L1149.5 270.5 Z"/></clipPath>
<line x1="722.4" y1="238.6" x2="722.4" y2="270.5" stroke="#000" stroke-width="1.6"/>
<line x1="802.8" y1="217.1" x2="802.8" y2="270.5" stroke="#000" stroke-width="1.6"/>
<line x1="844.8" y1="110.9" x2="844.8" y2="270.5" stroke="#000" stroke-width="1.6"/>
<line x1="891.4" y1="110.9" x2="891.4" y2="270.5" stroke="#000" stroke-width="1.6"/>
<line x1="937.2" y1="217.1" x2="937.2" y2="270.5" stroke="#000" stroke-width="1.6"/>
<line x1="1016.9" y1="238.6" x2="1016.9" y2="270.5" stroke="#000" stroke-width="1.6"/>
<line x1="867.6" y1="46.5" x2="867.6" y2="283" stroke="#c47a8c" stroke-width="1.7"/>
<line x1="867.6" y1="46.5" x2="867.6" y2="283" stroke="#8048c4" stroke-width="2.1" clip-path="url(#hc2)"/>
<line x1="608" y1="83.9" x2="623.6" y2="83.9" stroke="#d6d6d6" stroke-width="1"/>
<text x="630.50" y="87.20" font-size="9.3" text-anchor="start" fill="#000" stroke="#000" stroke-width="0.15" textLength="90.0" lengthAdjust="spacingAndGlyphs">[-0.78,0.81] @ 0.6827</text>
<line x1="608" y1="101.25" x2="623.6" y2="101.25" stroke="#d6d6d6" stroke-width="1"/>
<text x="630.50" y="104.55" font-size="9.3" text-anchor="start" fill="#000" stroke="#000" stroke-width="0.15" textLength="80.0" lengthAdjust="spacingAndGlyphs">[-2.21,2.37] @ 0.95</text>
<line x1="608" y1="118.60000000000001" x2="623.6" y2="118.60000000000001" stroke="#d6d6d6" stroke-width="1"/>
<text x="630.50" y="121.90" font-size="9.3" text-anchor="start" fill="#000" stroke="#000" stroke-width="0.15" textLength="90.0" lengthAdjust="spacingAndGlyphs">[-4.95,5.08] @ 0.9973</text>
<line x1="632.9" y1="283" x2="632.9" y2="280.5" stroke="#c8c8c8" stroke-width="0.9"/>
<text x="632.90" y="293.30" font-size="8.8" text-anchor="middle" fill="#111" textLength="7.0" lengthAdjust="spacingAndGlyphs">-8</text>
<line x1="691.6" y1="283" x2="691.6" y2="280.5" stroke="#c8c8c8" stroke-width="0.9"/>
<text x="691.60" y="293.30" font-size="8.8" text-anchor="middle" fill="#111" textLength="7.0" lengthAdjust="spacingAndGlyphs">-6</text>
<line x1="750.3" y1="283" x2="750.3" y2="280.5" stroke="#c8c8c8" stroke-width="0.9"/>
<text x="750.30" y="293.30" font-size="8.8" text-anchor="middle" fill="#111" textLength="7.0" lengthAdjust="spacingAndGlyphs">-4</text>
<line x1="809.0" y1="283" x2="809.0" y2="280.5" stroke="#c8c8c8" stroke-width="0.9"/>
<text x="809.00" y="293.30" font-size="8.8" text-anchor="middle" fill="#111" textLength="7.0" lengthAdjust="spacingAndGlyphs">-2</text>
<line x1="867.7" y1="283" x2="867.7" y2="280.5" stroke="#333" stroke-width="0.9"/>
<text x="867.70" y="293.30" font-size="8.8" text-anchor="middle" fill="#111" textLength="4.0" lengthAdjust="spacingAndGlyphs">0</text>
<line x1="926.4" y1="283" x2="926.4" y2="280.5" stroke="#c8c8c8" stroke-width="0.9"/>
<text x="926.40" y="293.30" font-size="8.8" text-anchor="middle" fill="#111" textLength="4.0" lengthAdjust="spacingAndGlyphs">2</text>
<line x1="985.1" y1="283" x2="985.1" y2="280.5" stroke="#c8c8c8" stroke-width="0.9"/>
<text x="985.10" y="293.30" font-size="8.8" text-anchor="middle" fill="#111" textLength="4.0" lengthAdjust="spacingAndGlyphs">4</text>
<line x1="1043.8" y1="283" x2="1043.8" y2="280.5" stroke="#c8c8c8" stroke-width="0.9"/>
<text x="1043.80" y="293.30" font-size="8.8" text-anchor="middle" fill="#111" textLength="4.0" lengthAdjust="spacingAndGlyphs">6</text>
<line x1="1102.5" y1="283" x2="1102.5" y2="280.5" stroke="#c8c8c8" stroke-width="0.9"/>
<text x="1102.50" y="293.30" font-size="8.8" text-anchor="middle" fill="#111" textLength="4.0" lengthAdjust="spacingAndGlyphs">8</text>
<text x="863.00" y="309.80" font-size="7.6" text-anchor="middle" fill="#000" textLength="50.0" lengthAdjust="spacingAndGlyphs">Reading blocks</text>
<text x="595.70" y="334.00" font-size="11.5" text-anchor="middle" fill="#000" stroke="#000" stroke-width="0.15" textLength="447.0" lengthAdjust="spacingAndGlyphs">Noise Induced Events (brightness drops) found in correlated noise for event duration: 10</text>
<rect x="41" y="340.8" width="1109.5" height="238.7" fill="none" stroke="#6a6a6a" stroke-width="1.7"/>
<line x1="69.3" y1="578.7" x2="69.3" y2="575.5" stroke="#333" stroke-width="0.9"/>
<text x="69.30" y="588.60" font-size="8.8" text-anchor="middle" fill="#111" textLength="4.0" lengthAdjust="spacingAndGlyphs">0</text>
<line x1="121.9" y1="578.7" x2="121.9" y2="575.5" stroke="#c8c8c8" stroke-width="0.9"/>
<text x="121.94" y="588.60" font-size="8.8" text-anchor="middle" fill="#111" textLength="8.1" lengthAdjust="spacingAndGlyphs">20</text>
<line x1="174.6" y1="578.7" x2="174.6" y2="575.5" stroke="#c8c8c8" stroke-width="0.9"/>
<text x="174.58" y="588.60" font-size="8.8" text-anchor="middle" fill="#111" textLength="8.1" lengthAdjust="spacingAndGlyphs">40</text>
<line x1="227.2" y1="578.7" x2="227.2" y2="575.5" stroke="#c8c8c8" stroke-width="0.9"/>
<text x="227.22" y="588.60" font-size="8.8" text-anchor="middle" fill="#111" textLength="8.1" lengthAdjust="spacingAndGlyphs">60</text>
<line x1="279.9" y1="578.7" x2="279.9" y2="575.5" stroke="#c8c8c8" stroke-width="0.9"/>
<text x="279.86" y="588.60" font-size="8.8" text-anchor="middle" fill="#111" textLength="8.1" lengthAdjust="spacingAndGlyphs">80</text>
<line x1="332.5" y1="578.7" x2="332.5" y2="575.5" stroke="#c8c8c8" stroke-width="0.9"/>
<text x="332.50" y="588.60" font-size="8.8" text-anchor="middle" fill="#111" textLength="12.1" lengthAdjust="spacingAndGlyphs">100</text>
<line x1="385.1" y1="578.7" x2="385.1" y2="575.5" stroke="#c8c8c8" stroke-width="0.9"/>
<text x="385.14" y="588.60" font-size="8.8" text-anchor="middle" fill="#111" textLength="12.1" lengthAdjust="spacingAndGlyphs">120</text>
<line x1="437.8" y1="578.7" x2="437.8" y2="575.5" stroke="#c8c8c8" stroke-width="0.9"/>
<text x="437.78" y="588.60" font-size="8.8" text-anchor="middle" fill="#111" textLength="12.1" lengthAdjust="spacingAndGlyphs">140</text>
<line x1="490.4" y1="578.7" x2="490.4" y2="575.5" stroke="#c8c8c8" stroke-width="0.9"/>
<text x="490.42" y="588.60" font-size="8.8" text-anchor="middle" fill="#111" textLength="12.1" lengthAdjust="spacingAndGlyphs">160</text>
<line x1="543.1" y1="578.7" x2="543.1" y2="575.5" stroke="#c8c8c8" stroke-width="0.9"/>
<text x="543.06" y="588.60" font-size="8.8" text-anchor="middle" fill="#111" textLength="12.1" lengthAdjust="spacingAndGlyphs">180</text>
<line x1="595.7" y1="578.7" x2="595.7" y2="575.5" stroke="#333" stroke-width="0.9"/>
<text x="595.70" y="588.60" font-size="8.8" text-anchor="middle" fill="#111" textLength="12.1" lengthAdjust="spacingAndGlyphs">200</text>
<line x1="648.3" y1="578.7" x2="648.3" y2="575.5" stroke="#c8c8c8" stroke-width="0.9"/>
<text x="648.34" y="588.60" font-size="8.8" text-anchor="middle" fill="#111" textLength="12.1" lengthAdjust="spacingAndGlyphs">220</text>
<line x1="701.0" y1="578.7" x2="701.0" y2="575.5" stroke="#c8c8c8" stroke-width="0.9"/>
<text x="700.98" y="588.60" font-size="8.8" text-anchor="middle" fill="#111" textLength="12.1" lengthAdjust="spacingAndGlyphs">240</text>
<line x1="753.6" y1="578.7" x2="753.6" y2="575.5" stroke="#c8c8c8" stroke-width="0.9"/>
<text x="753.62" y="588.60" font-size="8.8" text-anchor="middle" fill="#111" textLength="12.1" lengthAdjust="spacingAndGlyphs">260</text>
<line x1="806.3" y1="578.7" x2="806.3" y2="575.5" stroke="#c8c8c8" stroke-width="0.9"/>
<text x="806.26" y="588.60" font-size="8.8" text-anchor="middle" fill="#111" textLength="12.1" lengthAdjust="spacingAndGlyphs">280</text>
<line x1="858.9" y1="578.7" x2="858.9" y2="575.5" stroke="#c8c8c8" stroke-width="0.9"/>
<text x="858.90" y="588.60" font-size="8.8" text-anchor="middle" fill="#111" textLength="12.1" lengthAdjust="spacingAndGlyphs">300</text>
<line x1="911.5" y1="578.7" x2="911.5" y2="575.5" stroke="#c8c8c8" stroke-width="0.9"/>
<text x="911.54" y="588.60" font-size="8.8" text-anchor="middle" fill="#111" textLength="12.1" lengthAdjust="spacingAndGlyphs">320</text>
<line x1="964.2" y1="578.7" x2="964.2" y2="575.5" stroke="#c8c8c8" stroke-width="0.9"/>
<text x="964.18" y="588.60" font-size="8.8" text-anchor="middle" fill="#111" textLength="12.1" lengthAdjust="spacingAndGlyphs">340</text>
<line x1="1016.8" y1="578.7" x2="1016.8" y2="575.5" stroke="#c8c8c8" stroke-width="0.9"/>
<text x="1016.82" y="588.60" font-size="8.8" text-anchor="middle" fill="#111" textLength="12.1" lengthAdjust="spacingAndGlyphs">360</text>
<line x1="1069.5" y1="578.7" x2="1069.5" y2="575.5" stroke="#c8c8c8" stroke-width="0.9"/>
<text x="1069.46" y="588.60" font-size="8.8" text-anchor="middle" fill="#111" textLength="12.1" lengthAdjust="spacingAndGlyphs">380</text>
<line x1="1122.1" y1="578.7" x2="1122.1" y2="575.5" stroke="#333" stroke-width="0.9"/>
<text x="1122.10" y="588.60" font-size="8.8" text-anchor="middle" fill="#111" textLength="12.1" lengthAdjust="spacingAndGlyphs">400</text>
<line x1="41.5" y1="565.6" x2="45.5" y2="565.6" stroke="#333" stroke-width="0.9"/>
<text x="37.30" y="569.30" font-size="8.8" text-anchor="end" fill="#111" textLength="4.0" lengthAdjust="spacingAndGlyphs">0</text>
<line x1="41.5" y1="547.1" x2="45.5" y2="547.1" stroke="#d0d0d0" stroke-width="0.9"/>
<text x="37.30" y="550.82" font-size="8.8" text-anchor="end" fill="#111" textLength="12.1" lengthAdjust="spacingAndGlyphs">200</text>
<line x1="41.5" y1="528.6" x2="45.5" y2="528.6" stroke="#d0d0d0" stroke-width="0.9"/>
<text x="37.30" y="532.34" font-size="8.8" text-anchor="end" fill="#111" textLength="12.1" lengthAdjust="spacingAndGlyphs">400</text>
<line x1="41.5" y1="510.2" x2="45.5" y2="510.2" stroke="#d0d0d0" stroke-width="0.9"/>
<text x="37.30" y="513.86" font-size="8.8" text-anchor="end" fill="#111" textLength="12.1" lengthAdjust="spacingAndGlyphs">600</text>
<line x1="41.5" y1="491.7" x2="45.5" y2="491.7" stroke="#d0d0d0" stroke-width="0.9"/>
<text x="37.30" y="495.38" font-size="8.8" text-anchor="end" fill="#111" textLength="12.1" lengthAdjust="spacingAndGlyphs">800</text>
<line x1="41.5" y1="473.2" x2="45.5" y2="473.2" stroke="#d0d0d0" stroke-width="0.9"/>
<text x="37.30" y="476.90" font-size="8.8" text-anchor="end" fill="#111" textLength="16.2" lengthAdjust="spacingAndGlyphs">1000</text>
<line x1="41.5" y1="454.7" x2="45.5" y2="454.7" stroke="#d0d0d0" stroke-width="0.9"/>
<text x="37.30" y="458.42" font-size="8.8" text-anchor="end" fill="#111" textLength="16.2" lengthAdjust="spacingAndGlyphs">1200</text>
<line x1="41.5" y1="436.2" x2="45.5" y2="436.2" stroke="#d0d0d0" stroke-width="0.9"/>
<text x="37.30" y="439.94" font-size="8.8" text-anchor="end" fill="#111" textLength="16.2" lengthAdjust="spacingAndGlyphs">1400</text>
<line x1="41.5" y1="417.8" x2="45.5" y2="417.8" stroke="#d0d0d0" stroke-width="0.9"/>
<text x="37.30" y="421.46" font-size="8.8" text-anchor="end" fill="#111" textLength="16.2" lengthAdjust="spacingAndGlyphs">1600</text>
<line x1="41.5" y1="399.3" x2="45.5" y2="399.3" stroke="#d0d0d0" stroke-width="0.9"/>
<text x="37.30" y="402.98" font-size="8.8" text-anchor="end" fill="#111" textLength="16.2" lengthAdjust="spacingAndGlyphs">1800</text>
<line x1="41.5" y1="380.8" x2="45.5" y2="380.8" stroke="#333" stroke-width="0.9"/>
<text x="37.30" y="384.50" font-size="8.8" text-anchor="end" fill="#111" textLength="16.2" lengthAdjust="spacingAndGlyphs">2000</text>
<line x1="41.5" y1="362.3" x2="45.5" y2="362.3" stroke="#d0d0d0" stroke-width="0.9"/>
<text x="37.30" y="366.02" font-size="8.8" text-anchor="end" fill="#111" textLength="16.2" lengthAdjust="spacingAndGlyphs">2200</text>
<line x1="41.5" y1="343.8" x2="45.5" y2="343.8" stroke="#d0d0d0" stroke-width="0.9"/>
<text x="37.30" y="347.54" font-size="8.8" text-anchor="end" fill="#111" textLength="16.2" lengthAdjust="spacingAndGlyphs">2400</text>
<text x="594.30" y="605.50" font-size="8.2" text-anchor="middle" fill="#000" textLength="52.0" lengthAdjust="spacingAndGlyphs">brightness drop</text>
<text transform="translate(9.2,461.6) rotate(-90)" font-size="8" text-anchor="middle" fill="#111" textLength="128" lengthAdjust="spacingAndGlyphs">number of times noise produced drop</text>
<line x1="69" y1="565.8" x2="1122" y2="565.8" stroke="#b4b4b4" stroke-width="1.6"/>
<line x1="900" y1="565.5" x2="1022.5" y2="565.5" stroke="#8a8a8a" stroke-width="1.4"/>
<circle cx="935" cy="565.5" r="0.9" fill="#555"/>
<circle cx="941" cy="565.5" r="0.9" fill="#555"/>
<circle cx="955" cy="565.5" r="0.9" fill="#555"/>
<circle cx="962" cy="565.5" r="0.9" fill="#555"/>
<circle cx="975" cy="565.5" r="0.9" fill="#555"/>
<circle cx="982" cy="565.5" r="0.9" fill="#555"/>
<circle cx="995" cy="565.5" r="0.9" fill="#555"/>
<path d="M255.50 566 L255.50 564.5 L262.25 564.5 L262.25 564.5 L269.00 564.5 L269.00 564.3 L275.75 564.3 L275.75 563.9 L282.50 563.9 L282.50 562.4 L289.25 562.4 L289.25 562.4 L296.00 562.4 L296.00 561.2 L302.75 561.2 L302.75 561.2 L309.50 561.2 L309.50 559.2 L316.25 559.2 L316.25 555.7 L323.00 555.7 L323.00 555.7 L329.75 555.7 L329.75 554.2 L336.50 554.2 L336.50 551.6 L343.25 551.6 L343.25 548.3 L350.00 548.3 L350.00 544.3 L356.75 544.3 L356.75 540.5 L363.50 540.5 L363.50 537.8 L370.25 537.8 L370.25 533.3 L377.00 533.3 L377.00 529.4 L383.75 529.4 L383.75 520.5 L390.50 520.5 L390.50 520.0 L397.25 520.0 L397.25 511.9 L404.00 511.9 L404.00 506.5 L410.75 506.5 L410.75 502.5 L417.50 502.5 L417.50 492.4 L424.25 492.4 L424.25 486.5 L431.00 486.5 L431.00 479.0 L437.75 479.0 L437.75 471.2 L444.50 471.2 L444.50 463.9 L451.25 463.9 L451.25 462.2 L458.00 462.2 L458.00 452.9 L464.75 452.9 L464.75 447.1 L471.50 447.1 L471.50 441.2 L478.25 441.2 L478.25 445.3 L485.00 445.3 L485.00 432.6 L491.75 432.6 L491.75 430.2 L498.50 430.2 L498.50 435.7 L505.25 435.7 L505.25 431.3 L512.00 431.3 L512.00 424.6 L518.75 424.6 L518.75 432.6 L525.50 432.6 L525.50 437.0 L532.25 437.0 L532.25 437.7 L539.00 437.7 L539.00 433.6 L545.75 433.6 L545.75 442.5 L552.50 442.5 L552.50 446.0 L559.25 446.0 L559.25 447.4 L566.00 447.4 L566.00 455.0 L572.75 455.0 L572.75 455.0 L579.50 455.0 L579.50 459.4 L586.25 459.4 L586.25 464.6 L593.00 464.6 L593.00 470.8 L599.75 470.8 L599.75 478.3 L606.50 478.3 L606.50 482.5 L613.25 482.5 L613.25 481.7 L620.00 481.7 L620.00 487.8 L626.75 487.8 L626.75 500.8 L633.50 500.8 L633.50 506.5 L640.25 506.5 L640.25 509.2 L647.00 509.2 L647.00 513.4 L653.75 513.4 L653.75 518.6 L660.50 518.6 L660.50 525.1 L667.25 525.1 L667.25 526.4 L674.00 526.4 L674.00 532.4 L680.75 532.4 L680.75 533.2 L687.50 533.2 L687.50 538.9 L694.25 538.9 L694.25 541.3 L701.00 541.3 L701.00 545.7 L707.75 545.7 L707.75 548.4 L714.50 548.4 L714.50 550.1 L721.25 550.1 L721.25 550.9 L728.00 550.9 L728.00 552.6 L734.75 552.6 L734.75 555.1 L741.50 555.1 L741.50 554.8 L748.25 554.8 L748.25 557.4 L755.00 557.4 L755.00 558.4 L761.75 558.4 L761.75 558.8 L768.50 558.8 L768.50 559.3 L775.25 559.3 L775.25 560.0 L782.00 560.0 L782.00 560.6 L788.75 560.6 L788.75 561.5 L795.50 561.5 L795.50 562.1 L802.25 562.1 L802.25 562.7 L809.00 562.7 L809.00 563.9 L815.75 563.9 L815.75 563.9 L822.50 563.9 L822.50 563.9 L829.25 563.9 L829.25 564.8 L836.00 564.8 L836.00 563.7 L842.75 563.7 L842.75 566 Z" fill="#6666ff" stroke="#5050c8" stroke-width="0.9"/>
<defs><linearGradient id="cg" gradientUnits="userSpaceOnUse" x1="850" y1="0" x2="960" y2="0"><stop offset="0" stop-color="#000"/><stop offset="1" stop-color="#8a8a8a"/></linearGradient></defs>
<path d="M622.7 503.17 L624.7 504.33 L626.7 505.50 L628.7 506.69 L630.7 507.89 L632.7 509.10 L634.7 510.31 L636.7 511.53 L638.7 512.75 L640.7 513.96 L642.7 515.17 L644.7 516.38 L646.7 517.58 L648.7 518.77 L650.7 519.94 L652.7 521.11 L654.7 522.26 L656.7 523.40 L658.7 524.53 L660.7 525.64 L662.7 526.73 L664.7 527.80 L666.7 528.85 L668.7 529.89 L670.7 530.91 L672.7 531.90 L674.7 532.88 L676.7 533.84 L678.7 534.78 L680.7 535.69 L682.7 536.59 L684.7 537.46 L686.7 538.32 L688.7 539.15 L690.7 539.97 L692.7 540.76 L694.7 541.53 L696.7 542.29 L698.7 543.02 L700.7 543.73 L702.7 544.43 L704.7 545.11 L706.7 545.76 L708.7 546.40 L710.7 547.03 L712.7 547.63 L714.7 548.22 L716.7 548.79 L718.7 549.34 L720.7 549.87 L722.7 550.39 L724.7 550.90 L726.7 551.39 L728.7 551.86 L730.7 552.32 L732.7 552.77 L734.7 553.20 L736.7 553.62 L738.7 554.03 L740.7 554.42 L742.7 554.80 L744.7 555.17 L746.7 555.52 L748.7 555.87 L750.7 556.20 L752.7 556.53 L754.7 556.84 L756.7 557.14 L758.7 557.43 L760.7 557.72 L762.7 557.99 L764.7 558.25 L766.7 558.51 L768.7 558.76 L770.7 558.99 L772.7 559.23 L774.7 559.45 L776.7 559.66 L778.7 559.87 L780.7 560.07 L782.7 560.27 L784.7 560.46 L786.7 560.64 L788.7 560.81 L790.7 560.98 L792.7 561.14 L794.7 561.30 L796.7 561.45 L798.7 561.60 L800.7 561.74 L802.7 561.88 L804.7 562.01 L806.7 562.14 L808.7 562.26 L810.7 562.38 L812.7 562.50 L814.7 562.61 L816.7 562.72 L818.7 562.82 L820.7 562.92 L822.7 563.02 L824.7 563.11 L826.7 563.20 L828.7 563.29 L830.7 563.37 L832.7 563.45 L834.7 563.53 L836.7 563.60 L838.7 563.67 L840.7 563.74 L842.7 563.81 L844.7 563.88 L846.7 563.94 L848.7 564.00 L850.7 564.06 L852.7 564.11 L854.7 564.17 L856.7 564.22 L858.7 564.27 L860.7 564.32 L862.7 564.37 L864.7 564.41 L866.7 564.46 L868.7 564.50 L870.7 564.54 L872.7 564.58 L874.7 564.62 L876.7 564.65 L878.7 564.69 L880.7 564.72 L882.7 564.75 L884.7 564.79 L886.7 564.82 L888.7 564.85 L890.7 564.87 L892.7 564.90 L894.7 564.93 L896.7 564.95 L898.7 564.98 L900.7 565.00 L902.7 565.02 L904.7 565.05 L906.7 565.07 L908.7 565.09 L910.7 565.11 L912.7 565.13 L914.7 565.14 L916.7 565.16 L918.7 565.18 L920.7 565.20 L922.7 565.21 L924.7 565.23 L926.7 565.24 L928.7 565.26 L930.7 565.27 L932.7 565.28 L934.7 565.30 L936.7 565.31 L938.7 565.32 L940.7 565.33 L942.7 565.34 L944.7 565.35 L946.7 565.36 L948.7 565.37 L950.7 565.38 L952.7 565.39 L954.7 565.40 L956.7 565.41 L958.7 565.42 L960.7 565.42 L962.7 565.43 L964.7 565.44 L966.7 565.45 L968.7 565.45 L970.7 565.46 L972.7 565.47 L974.7 565.47 L976.7 565.48 L978.7 565.48 L980.7 565.49 L982.7 565.50 L984.7 565.50 L986.7 565.51 L988.7 565.51 L990.7 565.51 L992.7 565.52 L994.7 565.52 L996.7 565.53 L998.7 565.53 L1000.7 565.54 L1002.7 565.54 L1004.7 565.54 L1006.7 565.55 L1008.7 565.55 L1010.7 565.55 L1012.7 565.56 L1014.7 565.56 L1016.7 565.56 L1018.7 565.56 L1020.7 565.57" fill="none" stroke="url(#cg)" stroke-width="2.1" stroke-linejoin="round"/>
<line x1="837.5" y1="494.4" x2="837.5" y2="565" stroke="#33cc33" stroke-width="2"/>
<line x1="837.5" y1="494" x2="837.5" y2="496" stroke="#4a8a4a" stroke-width="2"/>
<line x1="964.3" y1="522.6" x2="964.3" y2="565" stroke="#33cc33" stroke-width="2"/>
<line x1="964.3" y1="522.4" x2="964.3" y2="524.6" stroke="#4a8a4a" stroke-width="2"/>
<line x1="1083.8" y1="536.5" x2="1083.8" y2="565" stroke="#33cc33" stroke-width="2"/>
<line x1="1083.8" y1="536.3" x2="1083.8" y2="538.5" stroke="#4a8a4a" stroke-width="2"/>
<line x1="986.9" y1="352.8" x2="986.9" y2="565" stroke="#c9404e" stroke-width="2"/>
<line x1="70.4" y1="379.6" x2="85.8" y2="379.6" stroke="#d6d6d6" stroke-width="1"/>
<text x="92.50" y="382.90" font-size="9.3" text-anchor="start" fill="#000" stroke="#000" stroke-width="0.15" textLength="439.2" lengthAdjust="spacingAndGlyphs">red line: the observed drop (B - A) extracted from lightcurve has a probability 2.8e-05 of being noise induced</text>
<line x1="70.4" y1="396.97" x2="85.8" y2="396.97" stroke="#d6d6d6" stroke-width="1"/>
<text x="92.50" y="400.27" font-size="9.3" text-anchor="start" fill="#000" stroke="#000" stroke-width="0.15" textLength="318.8" lengthAdjust="spacingAndGlyphs">black curve is LSQ fit to drop data using the Gumbel Extreme Value distribution</text>
<line x1="70.4" y1="414.34000000000003" x2="85.8" y2="414.34000000000003" stroke="#d6d6d6" stroke-width="1"/>
<text x="92.50" y="417.64" font-size="9.3" text-anchor="start" fill="#000" stroke="#000" stroke-width="0.15" textLength="339.5" lengthAdjust="spacingAndGlyphs">green lines are at 3 sigma (99.7%), 4 sigma (99.9938%), and 5 sigma (99.99994%)</text>
<line x1="70.4" y1="431.71000000000004" x2="85.8" y2="431.71000000000004" stroke="#d6d6d6" stroke-width="1"/>
<text x="92.50" y="435.01" font-size="9.3" text-anchor="start" fill="#000" stroke="#000" stroke-width="0.15" textLength="280.5" lengthAdjust="spacingAndGlyphs">If the red line is left of the 5 sigma line - refer to regional coordinator.</text>
<rect x="0" y="615.9" width="1152" height="1.1" fill="#cfcfcf"/>
</svg>
</body></html>
